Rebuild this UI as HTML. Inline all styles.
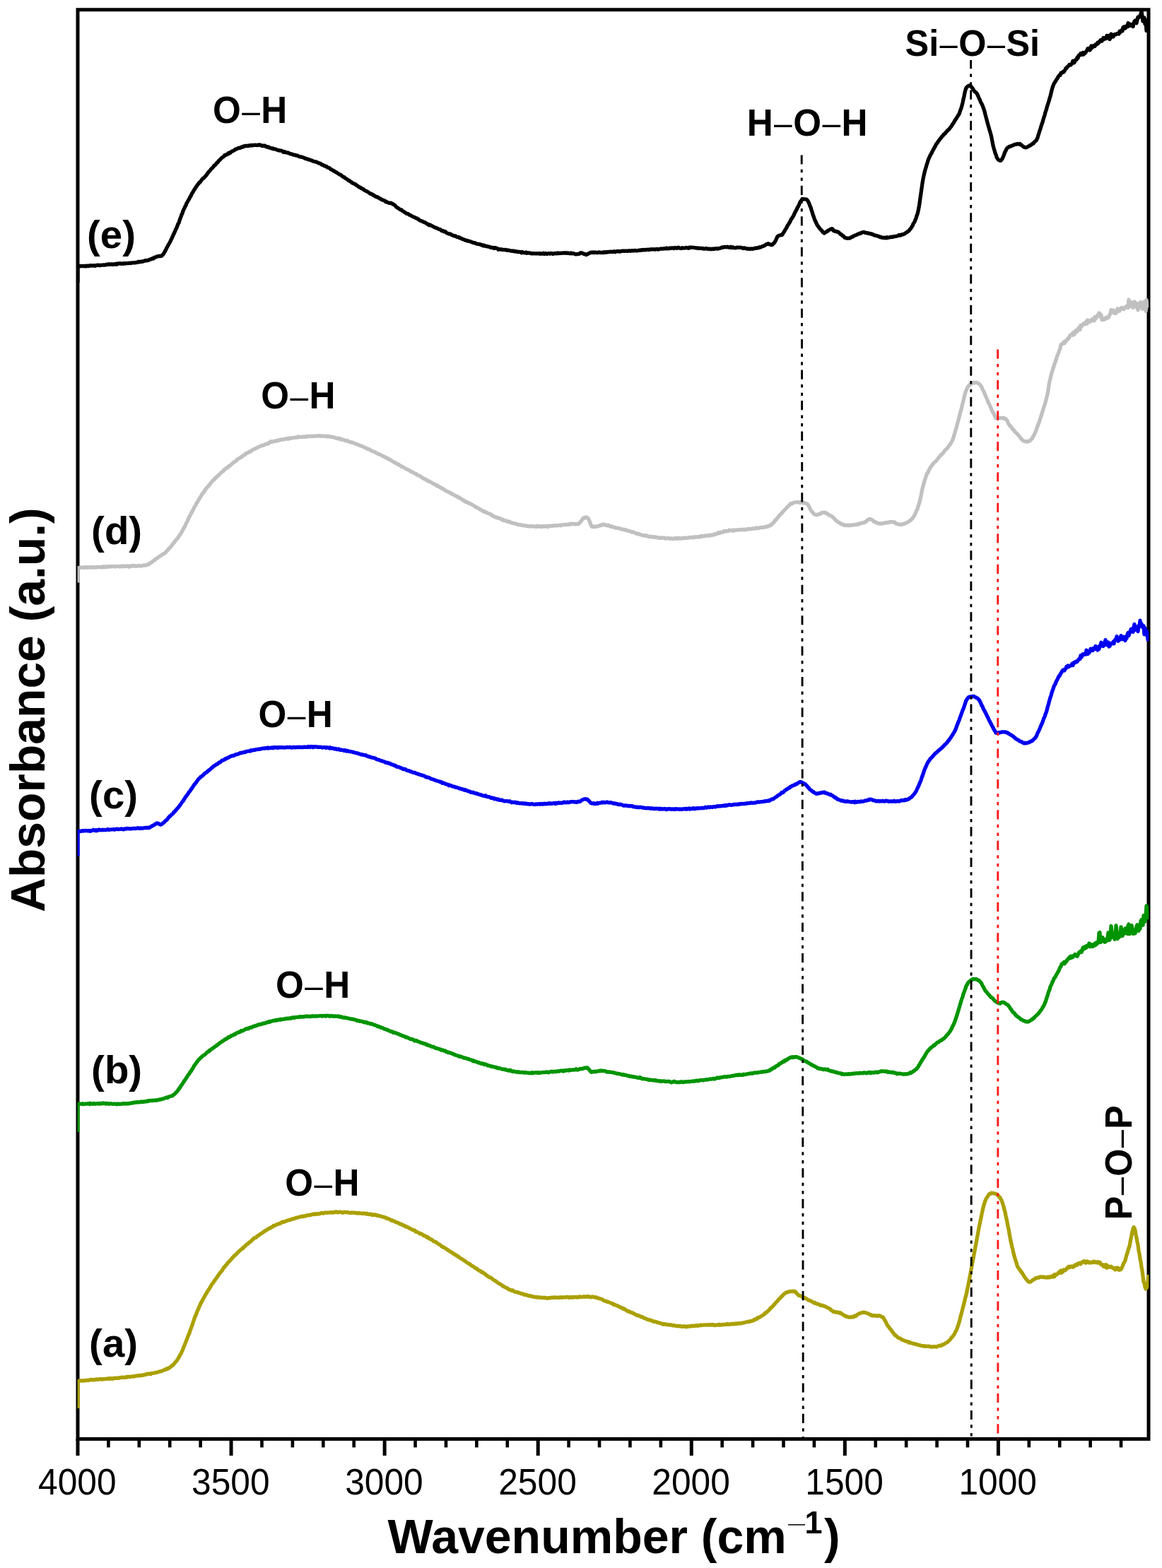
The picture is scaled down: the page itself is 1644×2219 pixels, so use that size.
<!DOCTYPE html>
<html lang="en">
<head>
<meta charset="utf-8">
<title>FTIR spectra</title>
<style>
html,body{margin:0;padding:0;background:#fff;}
body{width:1644px;height:2219px;overflow:hidden;}
svg{display:block;}
text{font-family:"Liberation Sans",sans-serif;fill:#000;}
.b{font-weight:700;}
.r{font-weight:400;}
.m{font-family:"DejaVu Sans","Liberation Sans",sans-serif;font-weight:200;}
.cv{fill:none;stroke-linejoin:round;stroke-linecap:butt;}
</style>
</head>
<body>
<svg width="1644" height="2219" viewBox="0 0 1644 2219" role="img" aria-label="FTIR absorbance spectra (a)-(e)">
<rect x="0" y="0" width="1644" height="2219" fill="#fff"/>
<rect x="110.00" y="13.75" width="1515.00" height="2022.65" fill="none" stroke="#000" stroke-width="5.0"/>
<clipPath id="plot"><rect x="109.60" y="13.75" width="1515.80" height="2022.65"/></clipPath>
<g clip-path="url(#plot)">
<path class="cv" d="M110.0 1993.0L110.0 1954.4L111.0 1954.4L112.0 1954.2L113.0 1953.9L114.0 1954.0L115.0 1953.7L116.0 1954.0L117.0 1954.3L118.0 1953.7L119.0 1953.6L120.0 1953.8L121.0 1953.7L122.0 1953.6L123.0 1953.2L124.0 1953.4L125.0 1953.5L126.0 1952.8L127.0 1953.0L128.0 1952.5L129.0 1952.6L130.0 1952.4L131.0 1952.8L132.0 1952.4L133.0 1952.8L134.0 1952.7L135.0 1952.5L136.0 1951.7L137.0 1952.2L138.0 1952.3L139.0 1952.3L140.0 1951.7L141.0 1951.9L142.0 1951.7L143.0 1951.7L144.0 1952.2L145.0 1951.5L146.0 1951.7L147.0 1951.9L148.0 1951.4L149.0 1951.4L150.0 1951.4L151.0 1951.3L152.0 1950.9L153.0 1951.2L154.0 1951.5L155.0 1950.5L156.0 1951.2L157.0 1950.9L158.0 1950.6L159.0 1951.3L160.0 1950.8L161.0 1950.2L162.0 1950.5L163.0 1950.5L164.0 1950.2L165.0 1950.4L166.0 1950.1L167.0 1950.2L168.0 1950.4L169.0 1949.6L170.0 1949.8L171.0 1949.5L172.0 1949.6L173.0 1949.1L174.0 1949.2L175.0 1949.3L176.0 1949.5L177.0 1949.5L178.0 1948.6L179.0 1948.7L180.0 1949.0L181.0 1948.1L182.0 1948.4L183.0 1948.4L184.0 1948.7L185.0 1948.4L186.0 1948.0L187.0 1947.8L188.0 1947.8L189.0 1948.2L190.0 1947.4L191.0 1947.3L192.0 1947.4L193.0 1947.1L194.0 1947.0L195.0 1946.6L196.0 1946.8L197.0 1946.5L198.0 1946.9L199.0 1946.6L200.0 1946.2L201.0 1946.3L202.0 1945.8L203.0 1946.1L204.0 1945.6L205.0 1945.6L206.0 1944.9L207.0 1945.2L208.0 1944.4L209.0 1944.1L210.0 1944.4L211.0 1944.0L212.0 1944.2L213.0 1944.6L214.0 1943.5L215.0 1943.3L216.0 1943.4L217.0 1943.3L218.0 1942.9L219.0 1942.7L220.0 1942.7L221.0 1942.5L222.0 1941.8L223.0 1941.9L224.0 1941.7L225.0 1941.1L226.0 1941.2L227.0 1940.6L228.0 1940.8L229.0 1940.2L230.0 1939.8L231.0 1939.3L232.0 1939.0L233.0 1938.1L234.0 1938.0L235.0 1938.0L236.0 1936.9L237.0 1937.4L238.0 1936.1L239.0 1936.3L240.0 1935.2L241.0 1935.0L242.0 1934.0L243.0 1932.7L244.0 1932.6L245.0 1931.7L246.0 1930.2L247.0 1929.1L248.0 1928.0L249.0 1926.6L250.0 1925.9L251.0 1924.0L252.0 1922.7L253.0 1920.8L254.0 1919.1L255.0 1917.0L256.0 1915.8L257.0 1913.3L258.0 1911.4L259.0 1908.7L260.0 1906.1L261.0 1903.8L262.0 1901.3L263.0 1898.9L264.0 1896.3L265.0 1893.8L266.0 1890.9L267.0 1888.4L268.0 1886.5L269.0 1883.1L270.0 1880.3L271.0 1877.9L272.0 1875.3L273.0 1871.6L274.0 1869.2L275.0 1866.2L276.0 1863.2L277.0 1861.3L278.0 1858.5L279.0 1856.1L280.0 1853.4L281.0 1851.5L282.0 1849.0L283.0 1846.9L284.0 1844.6L285.0 1842.5L286.0 1841.3L287.0 1838.9L288.0 1837.3L289.0 1835.4L290.0 1833.5L291.0 1831.8L292.0 1830.4L293.0 1828.5L294.0 1826.9L295.0 1825.3L296.0 1824.0L297.0 1822.3L298.0 1820.6L299.0 1818.8L300.0 1817.0L301.0 1816.2L302.0 1814.8L303.0 1813.0L304.0 1811.8L305.0 1810.4L306.0 1809.0L307.0 1807.6L308.0 1805.8L309.0 1805.0L310.0 1802.8L311.0 1802.0L312.0 1800.5L313.0 1799.3L314.0 1798.3L315.0 1796.9L316.0 1794.8L317.0 1793.4L318.0 1792.9L319.0 1791.1L320.0 1790.2L321.0 1789.3L322.0 1787.4L323.0 1786.1L324.0 1785.6L325.0 1784.5L326.0 1783.3L327.0 1782.3L328.0 1780.9L329.0 1779.7L330.0 1779.0L331.0 1777.7L332.0 1776.5L333.0 1776.2L334.0 1775.0L335.0 1774.2L336.0 1772.8L337.0 1772.0L338.0 1770.9L339.0 1770.0L340.0 1769.4L341.0 1768.2L342.0 1767.7L343.0 1766.8L344.0 1766.4L345.0 1764.5L346.0 1764.3L347.0 1763.1L348.0 1762.3L349.0 1761.0L350.0 1760.4L351.0 1760.0L352.0 1758.9L353.0 1758.1L354.0 1757.2L355.0 1756.8L356.0 1755.7L357.0 1754.3L358.0 1753.9L359.0 1752.8L360.0 1751.6L361.0 1751.7L362.0 1751.5L363.0 1750.3L364.0 1749.2L365.0 1748.6L366.0 1748.5L367.0 1747.4L368.0 1746.7L369.0 1746.0L370.0 1745.3L371.0 1744.9L372.0 1744.1L373.0 1743.4L374.0 1742.3L375.0 1742.2L376.0 1741.2L377.0 1741.1L378.0 1739.8L379.0 1739.5L380.0 1739.0L381.0 1738.0L382.0 1738.4L383.0 1737.7L384.0 1736.6L385.0 1736.5L386.0 1735.8L387.0 1734.4L388.0 1734.8L389.0 1734.2L390.0 1733.8L391.0 1733.0L392.0 1732.8L393.0 1732.3L394.0 1732.3L395.0 1731.6L396.0 1731.1L397.0 1731.2L398.0 1730.1L399.0 1729.8L400.0 1729.0L401.0 1729.6L402.0 1729.1L403.0 1728.7L404.0 1728.3L405.0 1727.8L406.0 1727.5L407.0 1727.1L408.0 1726.8L409.0 1726.5L410.0 1726.7L411.0 1726.1L412.0 1725.6L413.0 1725.1L414.0 1724.8L415.0 1725.2L416.0 1724.6L417.0 1724.1L418.0 1723.7L419.0 1723.2L420.0 1723.3L421.0 1723.3L422.0 1722.7L423.0 1722.5L424.0 1722.2L425.0 1722.1L426.0 1721.4L427.0 1721.6L428.0 1721.1L429.0 1721.5L430.0 1720.8L431.0 1721.0L432.0 1721.0L433.0 1720.3L434.0 1720.0L435.0 1720.1L436.0 1719.8L437.0 1719.3L438.0 1719.6L439.0 1719.9L440.0 1719.0L441.0 1718.9L442.0 1718.4L443.0 1718.7L444.0 1718.1L445.0 1717.9L446.0 1718.5L447.0 1717.7L448.0 1718.2L449.0 1718.1L450.0 1717.6L451.0 1717.6L452.0 1717.9L453.0 1717.1L454.0 1716.9L455.0 1716.5L456.0 1716.8L457.0 1717.2L458.0 1716.9L459.0 1716.2L460.0 1716.2L461.0 1716.2L462.0 1716.3L463.0 1716.1L464.0 1716.1L465.0 1716.1L466.0 1715.8L467.0 1715.8L468.0 1715.9L469.0 1715.7L470.0 1715.8L471.0 1716.2L472.0 1715.8L473.0 1715.6L474.0 1715.0L475.0 1715.6L476.0 1714.9L477.0 1715.1L478.0 1715.8L479.0 1715.7L480.0 1715.5L481.0 1715.0L482.0 1715.4L483.0 1715.4L484.0 1715.8L485.0 1716.3L486.0 1715.7L487.0 1715.4L488.0 1715.4L489.0 1715.7L490.0 1715.7L491.0 1715.5L492.0 1715.9L493.0 1715.6L494.0 1716.3L495.0 1716.4L496.0 1716.4L497.0 1716.0L498.0 1716.4L499.0 1716.2L500.0 1716.2L501.0 1716.3L502.0 1716.1L503.0 1716.1L504.0 1716.8L505.0 1716.6L506.0 1716.8L507.0 1717.1L508.0 1716.3L509.0 1716.7L510.0 1717.0L511.0 1717.2L512.0 1717.0L513.0 1717.5L514.0 1717.4L515.0 1717.0L516.0 1717.2L517.0 1717.8L518.0 1717.8L519.0 1717.2L520.0 1718.3L521.0 1718.2L522.0 1718.6L523.0 1718.2L524.0 1718.3L525.0 1718.2L526.0 1719.4L527.0 1718.8L528.0 1719.5L529.0 1719.0L530.0 1719.4L531.0 1719.0L532.0 1719.6L533.0 1720.2L534.0 1719.8L535.0 1720.7L536.0 1720.7L537.0 1720.6L538.0 1721.0L539.0 1721.3L540.0 1721.7L541.0 1721.9L542.0 1722.1L543.0 1722.6L544.0 1722.7L545.0 1722.9L546.0 1723.7L547.0 1724.3L548.0 1724.0L549.0 1724.8L550.0 1725.0L551.0 1725.3L552.0 1726.2L553.0 1726.2L554.0 1727.3L555.0 1727.0L556.0 1727.8L557.0 1728.0L558.0 1728.3L559.0 1729.1L560.0 1729.3L561.0 1730.0L562.0 1730.2L563.0 1730.4L564.0 1731.1L565.0 1731.6L566.0 1732.3L567.0 1732.2L568.0 1732.9L569.0 1732.9L570.0 1734.1L571.0 1734.0L572.0 1734.3L573.0 1735.2L574.0 1736.1L575.0 1735.7L576.0 1736.4L577.0 1736.9L578.0 1737.3L579.0 1738.2L580.0 1738.3L581.0 1738.9L582.0 1739.7L583.0 1739.8L584.0 1740.6L585.0 1740.7L586.0 1741.1L587.0 1741.4L588.0 1743.0L589.0 1742.8L590.0 1743.5L591.0 1743.9L592.0 1744.5L593.0 1744.9L594.0 1746.0L595.0 1745.6L596.0 1746.0L597.0 1746.7L598.0 1747.1L599.0 1748.3L600.0 1748.8L601.0 1748.8L602.0 1749.2L603.0 1750.1L604.0 1751.2L605.0 1750.5L606.0 1752.1L607.0 1752.2L608.0 1753.4L609.0 1753.3L610.0 1754.1L611.0 1754.4L612.0 1755.1L613.0 1756.4L614.0 1756.8L615.0 1757.1L616.0 1757.5L617.0 1757.8L618.0 1758.9L619.0 1759.6L620.0 1760.2L621.0 1760.9L622.0 1761.2L623.0 1762.1L624.0 1762.8L625.0 1763.8L626.0 1764.7L627.0 1764.7L628.0 1765.2L629.0 1766.0L630.0 1766.5L631.0 1767.1L632.0 1768.0L633.0 1768.3L634.0 1769.5L635.0 1769.9L636.0 1770.7L637.0 1771.2L638.0 1771.7L639.0 1772.3L640.0 1773.1L641.0 1773.7L642.0 1774.6L643.0 1775.2L644.0 1775.4L645.0 1776.5L646.0 1776.7L647.0 1777.6L648.0 1778.3L649.0 1778.4L650.0 1779.7L651.0 1780.4L652.0 1781.0L653.0 1781.5L654.0 1782.2L655.0 1782.7L656.0 1783.5L657.0 1784.1L658.0 1784.9L659.0 1785.2L660.0 1786.3L661.0 1786.9L662.0 1787.5L663.0 1788.0L664.0 1789.0L665.0 1789.0L666.0 1790.2L667.0 1790.8L668.0 1791.5L669.0 1792.2L670.0 1792.5L671.0 1793.3L672.0 1794.2L673.0 1794.8L674.0 1795.4L675.0 1795.5L676.0 1796.8L677.0 1797.6L678.0 1798.2L679.0 1798.6L680.0 1798.7L681.0 1800.1L682.0 1800.5L683.0 1800.4L684.0 1801.9L685.0 1802.0L686.0 1802.7L687.0 1803.5L688.0 1804.8L689.0 1804.9L690.0 1805.8L691.0 1806.8L692.0 1807.4L693.0 1807.6L694.0 1808.2L695.0 1808.5L696.0 1809.3L697.0 1810.3L698.0 1811.0L699.0 1811.5L700.0 1812.5L701.0 1812.6L702.0 1813.5L703.0 1814.4L704.0 1815.0L705.0 1815.9L706.0 1816.4L707.0 1816.8L708.0 1817.7L709.0 1818.0L710.0 1818.5L711.0 1819.8L712.0 1820.3L713.0 1821.0L714.0 1821.0L715.0 1822.0L716.0 1822.5L717.0 1823.0L718.0 1823.0L719.0 1824.1L720.0 1824.9L721.0 1825.2L722.0 1825.3L723.0 1825.8L724.0 1826.4L725.0 1825.7L726.0 1826.8L727.0 1827.4L728.0 1827.7L729.0 1828.3L730.0 1828.5L731.0 1828.5L732.0 1828.8L733.0 1829.3L734.0 1829.2L735.0 1829.6L736.0 1830.2L737.0 1830.9L738.0 1830.6L739.0 1830.9L740.0 1831.3L741.0 1832.0L742.0 1831.9L743.0 1832.6L744.0 1832.2L745.0 1832.7L746.0 1833.0L747.0 1833.6L748.0 1833.9L749.0 1833.4L750.0 1833.8L751.0 1834.4L752.0 1834.3L753.0 1834.3L754.0 1835.2L755.0 1835.2L756.0 1835.4L757.0 1835.3L758.0 1835.9L759.0 1835.6L760.0 1836.1L761.0 1835.6L762.0 1835.8L763.0 1836.2L764.0 1836.0L765.0 1836.5L766.0 1836.5L767.0 1836.2L768.0 1836.5L769.0 1836.4L770.0 1836.9L771.0 1836.4L772.0 1836.5L773.0 1837.0L774.0 1837.3L775.0 1837.2L776.0 1836.6L777.0 1836.7L778.0 1837.0L779.0 1836.5L780.0 1836.2L781.0 1836.5L782.0 1836.6L783.0 1836.2L784.0 1835.9L785.0 1835.9L786.0 1836.5L787.0 1836.1L788.0 1836.2L789.0 1836.3L790.0 1836.4L791.0 1836.1L792.0 1836.3L793.0 1835.9L794.0 1836.0L795.0 1835.8L796.0 1836.4L797.0 1836.0L798.0 1835.8L799.0 1835.9L800.0 1835.9L801.0 1836.1L802.0 1835.4L803.0 1835.5L804.0 1835.7L805.0 1836.6L806.0 1836.1L807.0 1835.7L808.0 1835.9L809.0 1836.3L810.0 1835.6L811.0 1835.5L812.0 1836.0L813.0 1835.7L814.0 1835.7L815.0 1835.4L816.0 1836.1L817.0 1836.0L818.0 1835.6L819.0 1835.6L820.0 1834.8L821.0 1835.5L822.0 1835.3L823.0 1835.4L824.0 1835.5L825.0 1835.1L826.0 1834.7L827.0 1835.3L828.0 1834.9L829.0 1835.0L830.0 1834.9L831.0 1835.0L832.0 1834.4L833.0 1835.5L834.0 1835.2L835.0 1835.5L836.0 1835.8L837.0 1835.3L838.0 1834.9L839.0 1835.3L840.0 1835.4L841.0 1835.8L842.0 1836.1L843.0 1835.7L844.0 1836.6L845.0 1836.3L846.0 1837.2L847.0 1837.3L848.0 1837.6L849.0 1838.0L850.0 1838.2L851.0 1838.6L852.0 1838.6L853.0 1839.5L854.0 1840.4L855.0 1840.9L856.0 1841.1L857.0 1841.3L858.0 1841.3L859.0 1842.3L860.0 1842.3L861.0 1842.7L862.0 1843.0L863.0 1843.6L864.0 1843.8L865.0 1844.3L866.0 1844.4L867.0 1845.1L868.0 1846.3L869.0 1846.0L870.0 1846.4L871.0 1847.0L872.0 1847.5L873.0 1847.4L874.0 1848.1L875.0 1848.9L876.0 1849.1L877.0 1849.5L878.0 1850.5L879.0 1850.3L880.0 1851.0L881.0 1851.3L882.0 1852.5L883.0 1852.0L884.0 1852.9L885.0 1853.4L886.0 1854.3L887.0 1854.8L888.0 1855.6L889.0 1855.2L890.0 1856.4L891.0 1856.5L892.0 1856.9L893.0 1857.7L894.0 1857.7L895.0 1857.8L896.0 1858.8L897.0 1858.9L898.0 1859.6L899.0 1860.3L900.0 1860.7L901.0 1861.5L902.0 1861.4L903.0 1861.4L904.0 1862.1L905.0 1862.4L906.0 1862.8L907.0 1863.7L908.0 1863.7L909.0 1863.7L910.0 1864.9L911.0 1865.1L912.0 1865.6L913.0 1865.9L914.0 1866.4L915.0 1866.6L916.0 1867.3L917.0 1867.5L918.0 1867.8L919.0 1868.2L920.0 1867.9L921.0 1868.7L922.0 1869.0L923.0 1869.4L924.0 1869.3L925.0 1870.5L926.0 1870.3L927.0 1870.3L928.0 1870.4L929.0 1871.1L930.0 1871.5L931.0 1871.5L932.0 1872.1L933.0 1872.1L934.0 1872.7L935.0 1872.6L936.0 1873.0L937.0 1873.6L938.0 1874.3L939.0 1873.4L940.0 1873.8L941.0 1873.8L942.0 1874.5L943.0 1874.1L944.0 1874.5L945.0 1874.8L946.0 1874.7L947.0 1874.8L948.0 1875.1L949.0 1874.8L950.0 1875.1L951.0 1875.6L952.0 1875.8L953.0 1875.9L954.0 1875.5L955.0 1876.0L956.0 1876.5L957.0 1876.5L958.0 1876.4L959.0 1876.3L960.0 1876.9L961.0 1876.6L962.0 1876.5L963.0 1876.7L964.0 1877.4L965.0 1877.1L966.0 1877.4L967.0 1877.0L968.0 1877.4L969.0 1877.0L970.0 1877.1L971.0 1877.9L972.0 1877.3L973.0 1876.9L974.0 1877.0L975.0 1877.0L976.0 1877.2L977.0 1876.6L978.0 1876.1L979.0 1876.5L980.0 1876.5L981.0 1876.4L982.0 1876.6L983.0 1876.2L984.0 1876.3L985.0 1875.6L986.0 1876.1L987.0 1876.3L988.0 1875.8L989.0 1875.6L990.0 1875.5L991.0 1875.9L992.0 1875.0L993.0 1875.2L994.0 1875.3L995.0 1875.4L996.0 1875.0L997.0 1875.2L998.0 1875.0L999.0 1875.1L1000.0 1875.0L1001.0 1874.7L1002.0 1875.0L1003.0 1875.3L1004.0 1874.7L1005.0 1874.9L1006.0 1875.1L1007.0 1874.6L1008.0 1875.0L1009.0 1874.6L1010.0 1875.2L1011.0 1875.6L1012.0 1875.5L1013.0 1874.8L1014.0 1875.0L1015.0 1874.8L1016.0 1874.8L1017.0 1875.2L1018.0 1874.3L1019.0 1875.0L1020.0 1874.6L1021.0 1875.0L1022.0 1874.6L1023.0 1874.3L1024.0 1874.5L1025.0 1874.6L1026.0 1874.3L1027.0 1874.4L1028.0 1874.1L1029.0 1873.5L1030.0 1874.4L1031.0 1874.2L1032.0 1874.0L1033.0 1873.9L1034.0 1874.1L1035.0 1873.6L1036.0 1873.5L1037.0 1873.6L1038.0 1873.9L1039.0 1873.1L1040.0 1873.7L1041.0 1873.1L1042.0 1872.9L1043.0 1873.5L1044.0 1873.0L1045.0 1872.6L1046.0 1872.7L1047.0 1873.0L1048.0 1872.9L1049.0 1872.3L1050.0 1872.4L1051.0 1872.3L1052.0 1871.7L1053.0 1871.8L1054.0 1871.5L1055.0 1871.1L1056.0 1870.9L1057.0 1870.9L1058.0 1870.7L1059.0 1870.2L1060.0 1870.1L1061.0 1870.3L1062.0 1869.7L1063.0 1869.6L1064.0 1869.3L1065.0 1868.8L1066.0 1868.9L1067.0 1867.5L1068.0 1867.5L1069.0 1866.7L1070.0 1866.9L1071.0 1866.4L1072.0 1864.7L1073.0 1864.5L1074.0 1864.5L1075.0 1863.9L1076.0 1863.3L1077.0 1862.5L1078.0 1862.0L1079.0 1861.5L1080.0 1860.6L1081.0 1860.2L1082.0 1858.5L1083.0 1858.6L1084.0 1857.3L1085.0 1857.0L1086.0 1855.8L1087.0 1854.7L1088.0 1854.1L1089.0 1852.7L1090.0 1851.7L1091.0 1850.4L1092.0 1849.8L1093.0 1848.8L1094.0 1847.9L1095.0 1846.4L1096.0 1845.6L1097.0 1844.2L1098.0 1843.0L1099.0 1842.1L1100.0 1841.2L1101.0 1839.7L1102.0 1838.7L1103.0 1837.6L1104.0 1836.7L1105.0 1835.3L1106.0 1834.9L1107.0 1833.5L1108.0 1832.7L1109.0 1831.4L1110.0 1830.8L1111.0 1830.0L1112.0 1829.1L1113.0 1829.3L1114.0 1828.5L1115.0 1828.6L1116.0 1828.2L1117.0 1827.6L1118.0 1827.6L1119.0 1827.7L1120.0 1827.5L1121.0 1827.5L1122.0 1827.5L1123.0 1827.2L1124.0 1827.9L1125.0 1827.7L1126.0 1829.2L1127.0 1829.9L1128.0 1831.1L1129.0 1832.4L1130.0 1833.3L1131.0 1833.3L1132.0 1833.6L1133.0 1834.2L1134.0 1834.3L1135.0 1835.0L1136.0 1836.1L1137.0 1835.8L1138.0 1836.8L1139.0 1836.7L1140.0 1837.7L1141.0 1838.0L1142.0 1838.6L1143.0 1839.3L1144.0 1840.1L1145.0 1840.2L1146.0 1840.7L1147.0 1840.9L1148.0 1841.8L1149.0 1842.1L1150.0 1842.9L1151.0 1843.1L1152.0 1844.1L1153.0 1843.5L1154.0 1844.4L1155.0 1845.1L1156.0 1845.1L1157.0 1845.3L1158.0 1845.8L1159.0 1845.8L1160.0 1846.6L1161.0 1847.6L1162.0 1847.5L1163.0 1847.1L1164.0 1847.5L1165.0 1848.0L1166.0 1848.7L1167.0 1848.5L1168.0 1849.0L1169.0 1849.9L1170.0 1850.3L1171.0 1850.6L1172.0 1851.0L1173.0 1851.6L1174.0 1852.5L1175.0 1852.8L1176.0 1854.4L1177.0 1854.6L1178.0 1855.5L1179.0 1856.4L1180.0 1856.6L1181.0 1856.2L1182.0 1857.0L1183.0 1857.3L1184.0 1856.9L1185.0 1857.0L1186.0 1857.5L1187.0 1857.3L1188.0 1858.5L1189.0 1857.7L1190.0 1858.5L1191.0 1859.4L1192.0 1860.0L1193.0 1860.7L1194.0 1861.4L1195.0 1861.9L1196.0 1862.9L1197.0 1862.4L1198.0 1863.4L1199.0 1863.5L1200.0 1863.9L1201.0 1864.1L1202.0 1863.8L1203.0 1863.8L1204.0 1864.1L1205.0 1863.8L1206.0 1863.3L1207.0 1863.9L1208.0 1863.7L1209.0 1862.2L1210.0 1862.2L1211.0 1862.4L1212.0 1861.3L1213.0 1860.5L1214.0 1859.8L1215.0 1859.2L1216.0 1858.8L1217.0 1858.3L1218.0 1858.3L1219.0 1857.7L1220.0 1857.5L1221.0 1857.2L1222.0 1857.5L1223.0 1857.2L1224.0 1857.5L1225.0 1858.0L1226.0 1858.1L1227.0 1858.5L1228.0 1858.9L1229.0 1859.3L1230.0 1859.8L1231.0 1860.3L1232.0 1861.1L1233.0 1861.0L1234.0 1862.0L1235.0 1861.9L1236.0 1861.7L1237.0 1861.9L1238.0 1861.9L1239.0 1862.2L1240.0 1861.9L1241.0 1862.6L1242.0 1862.1L1243.0 1861.7L1244.0 1862.2L1245.0 1862.0L1246.0 1862.8L1247.0 1863.4L1248.0 1863.8L1249.0 1863.9L1250.0 1865.2L1251.0 1867.4L1252.0 1868.6L1253.0 1870.3L1254.0 1872.4L1255.0 1874.7L1256.0 1876.1L1257.0 1877.3L1258.0 1878.7L1259.0 1880.2L1260.0 1881.2L1261.0 1882.4L1262.0 1884.1L1263.0 1885.1L1264.0 1886.6L1265.0 1887.8L1266.0 1889.5L1267.0 1889.5L1268.0 1890.6L1269.0 1891.4L1270.0 1892.4L1271.0 1893.3L1272.0 1893.5L1273.0 1894.0L1274.0 1894.3L1275.0 1895.0L1276.0 1896.0L1277.0 1896.3L1278.0 1896.4L1279.0 1897.0L1280.0 1897.5L1281.0 1898.0L1282.0 1898.0L1283.0 1898.5L1284.0 1898.4L1285.0 1899.0L1286.0 1900.1L1287.0 1899.3L1288.0 1900.2L1289.0 1900.7L1290.0 1900.9L1291.0 1901.0L1292.0 1901.5L1293.0 1901.8L1294.0 1902.1L1295.0 1901.8L1296.0 1902.5L1297.0 1902.5L1298.0 1902.8L1299.0 1903.3L1300.0 1903.6L1301.0 1903.9L1302.0 1903.7L1303.0 1904.3L1304.0 1904.5L1305.0 1904.7L1306.0 1905.0L1307.0 1904.7L1308.0 1904.8L1309.0 1905.3L1310.0 1904.8L1311.0 1905.4L1312.0 1905.3L1313.0 1905.4L1314.0 1905.1L1315.0 1905.4L1316.0 1905.7L1317.0 1906.0L1318.0 1906.1L1319.0 1905.8L1320.0 1905.8L1321.0 1905.6L1322.0 1905.9L1323.0 1905.7L1324.0 1906.0L1325.0 1906.2L1326.0 1905.6L1327.0 1904.9L1328.0 1904.9L1329.0 1904.4L1330.0 1904.1L1331.0 1904.5L1332.0 1903.8L1333.0 1902.9L1334.0 1903.1L1335.0 1902.8L1336.0 1901.9L1337.0 1901.3L1338.0 1900.8L1339.0 1900.2L1340.0 1899.6L1341.0 1898.9L1342.0 1898.0L1343.0 1897.0L1344.0 1896.0L1345.0 1894.8L1346.0 1893.0L1347.0 1892.3L1348.0 1891.2L1349.0 1889.6L1350.0 1888.5L1351.0 1886.3L1352.0 1884.2L1353.0 1882.8L1354.0 1880.1L1355.0 1877.2L1356.0 1874.4L1357.0 1871.2L1358.0 1867.5L1359.0 1863.1L1360.0 1859.8L1361.0 1855.9L1362.0 1851.8L1363.0 1848.0L1364.0 1844.3L1365.0 1839.8L1366.0 1835.6L1367.0 1832.4L1368.0 1827.3L1369.0 1822.4L1370.0 1817.9L1371.0 1812.7L1372.0 1807.1L1373.0 1802.3L1374.0 1796.6L1375.0 1791.1L1376.0 1786.1L1377.0 1780.9L1378.0 1775.1L1379.0 1770.0L1380.0 1764.5L1381.0 1760.0L1382.0 1753.5L1383.0 1748.7L1384.0 1742.9L1385.0 1737.5L1386.0 1732.6L1387.0 1727.7L1388.0 1723.1L1389.0 1718.2L1390.0 1713.4L1391.0 1709.0L1392.0 1705.3L1393.0 1701.9L1394.0 1699.3L1395.0 1696.8L1396.0 1695.2L1397.0 1693.8L1398.0 1692.1L1399.0 1690.4L1400.0 1689.6L1401.0 1688.8L1402.0 1689.2L1403.0 1688.2L1404.0 1688.7L1405.0 1688.5L1406.0 1689.0L1407.0 1689.1L1408.0 1689.2L1409.0 1689.7L1410.0 1690.4L1411.0 1691.2L1412.0 1691.8L1413.0 1692.9L1414.0 1694.5L1415.0 1694.8L1416.0 1697.0L1417.0 1698.6L1418.0 1701.3L1419.0 1704.5L1420.0 1707.6L1421.0 1711.8L1422.0 1715.3L1423.0 1720.6L1424.0 1724.8L1425.0 1730.0L1426.0 1735.1L1427.0 1739.6L1428.0 1745.5L1429.0 1751.0L1430.0 1756.4L1431.0 1760.7L1432.0 1765.1L1433.0 1768.8L1434.0 1773.7L1435.0 1777.6L1436.0 1780.8L1437.0 1784.2L1438.0 1787.1L1439.0 1790.6L1440.0 1793.3L1441.0 1794.4L1442.0 1796.1L1443.0 1797.4L1444.0 1798.4L1445.0 1800.5L1446.0 1801.2L1447.0 1802.9L1448.0 1804.5L1449.0 1806.2L1450.0 1807.6L1451.0 1809.2L1452.0 1810.3L1453.0 1811.5L1454.0 1813.0L1455.0 1813.7L1456.0 1814.1L1457.0 1814.3L1458.0 1814.2L1459.0 1813.2L1460.0 1812.5L1461.0 1811.5L1462.0 1811.1L1463.0 1810.3L1464.0 1810.2L1465.0 1808.8L1466.0 1808.7L1467.0 1808.8L1468.0 1808.1L1469.0 1807.7L1470.0 1808.1L1471.0 1807.3L1472.0 1806.9L1473.0 1806.8L1474.0 1807.4L1475.0 1807.5L1476.0 1806.9L1477.0 1807.2L1478.0 1807.8L1479.0 1807.9L1480.0 1807.4L1481.0 1808.0L1482.0 1808.0L1483.0 1806.9L1484.0 1807.6L1485.0 1807.9L1486.0 1807.3L1487.0 1806.2L1488.0 1806.9L1489.0 1807.1L1490.0 1807.0L1491.0 1804.3L1492.0 1806.5L1493.0 1803.6L1494.0 1804.2L1495.0 1803.8L1496.0 1803.0L1497.0 1802.0L1498.0 1800.5L1499.0 1801.2L1500.0 1799.8L1501.0 1798.0L1502.0 1801.2L1503.0 1799.2L1504.0 1799.4L1505.0 1797.0L1506.0 1798.2L1507.0 1797.7L1508.0 1797.2L1509.0 1795.5L1510.0 1794.2L1511.0 1794.4L1512.0 1792.5L1513.0 1792.5L1514.0 1793.4L1515.0 1792.2L1516.0 1792.4L1517.0 1792.1L1518.0 1793.2L1519.0 1792.3L1520.0 1791.0L1521.0 1791.5L1522.0 1789.7L1523.0 1789.7L1524.0 1790.2L1525.0 1788.3L1526.0 1788.6L1527.0 1787.4L1528.0 1788.1L1529.0 1788.8L1530.0 1786.6L1531.0 1786.9L1532.0 1785.7L1533.0 1785.2L1534.0 1784.8L1535.0 1786.6L1536.0 1787.3L1537.0 1785.9L1538.0 1785.1L1539.0 1786.4L1540.0 1785.8L1541.0 1786.9L1542.0 1786.7L1543.0 1786.8L1544.0 1787.1L1545.0 1786.2L1546.0 1786.4L1547.0 1785.4L1548.0 1786.4L1549.0 1785.6L1550.0 1786.6L1551.0 1786.0L1552.0 1786.9L1553.0 1787.2L1554.0 1785.8L1555.0 1786.3L1556.0 1786.3L1557.0 1788.2L1558.0 1789.7L1559.0 1790.0L1560.0 1789.9L1561.0 1792.1L1562.0 1790.1L1563.0 1792.7L1564.0 1791.2L1565.0 1789.7L1566.0 1794.3L1567.0 1793.7L1568.0 1791.8L1569.0 1793.0L1570.0 1792.9L1571.0 1793.4L1572.0 1792.3L1573.0 1793.2L1574.0 1794.3L1575.0 1794.4L1576.0 1795.4L1577.0 1794.8L1578.0 1796.9L1579.0 1794.6L1580.0 1795.7L1581.0 1794.1L1582.0 1794.9L1583.0 1797.2L1584.0 1795.5L1585.0 1796.8L1586.0 1796.3L1587.0 1794.4L1588.0 1792.4L1589.0 1789.6L1590.0 1787.3L1591.0 1786.1L1592.0 1783.5L1593.0 1779.6L1594.0 1775.9L1595.0 1773.3L1596.0 1769.1L1597.0 1766.2L1598.0 1763.8L1599.0 1758.3L1600.0 1752.9L1601.0 1748.0L1602.0 1742.9L1603.0 1739.2L1604.0 1736.8L1605.0 1738.0L1606.0 1741.3L1607.0 1747.2L1608.0 1751.9L1609.0 1757.7L1610.0 1762.0L1611.0 1769.8L1612.0 1774.3L1613.0 1781.0L1614.0 1785.9L1615.0 1792.9L1616.0 1798.4L1617.0 1806.2L1618.0 1814.3L1619.0 1815.7L1620.0 1821.3L1621.0 1824.0L1622.0 1823.1L1623.0 1819.8L1624.0 1813.6L1624.9 1804.0" stroke="#aaa000" stroke-width="5.3"/>
<path class="cv" d="M110.0 1602.0L110.0 1562.4L111.0 1562.1L112.0 1562.1L113.0 1562.1L114.0 1562.2L115.0 1562.3L116.0 1562.3L117.0 1561.7L118.0 1562.8L119.0 1562.5L120.0 1562.3L121.0 1562.0L122.0 1562.0L123.0 1562.2L124.0 1562.1L125.0 1561.5L126.0 1562.2L127.0 1562.8L128.0 1561.4L129.0 1562.2L130.0 1562.0L131.0 1561.9L132.0 1562.3L133.0 1561.5L134.0 1561.9L135.0 1562.3L136.0 1561.8L137.0 1561.7L138.0 1561.8L139.0 1561.7L140.0 1562.3L141.0 1561.5L142.0 1562.0L143.0 1561.4L144.0 1561.9L145.0 1561.7L146.0 1560.9L147.0 1561.7L148.0 1561.4L149.0 1561.6L150.0 1562.2L151.0 1561.4L152.0 1561.4L153.0 1562.2L154.0 1561.8L155.0 1562.3L156.0 1562.0L157.0 1561.7L158.0 1562.0L159.0 1562.4L160.0 1562.4L161.0 1562.1L162.0 1562.2L163.0 1562.2L164.0 1562.1L165.0 1562.9L166.0 1562.3L167.0 1562.0L168.0 1562.2L169.0 1562.6L170.0 1562.5L171.0 1562.3L172.0 1562.1L173.0 1562.2L174.0 1561.6L175.0 1561.7L176.0 1562.2L177.0 1561.7L178.0 1561.9L179.0 1562.1L180.0 1561.8L181.0 1561.5L182.0 1562.1L183.0 1561.5L184.0 1561.1L185.0 1561.3L186.0 1561.1L187.0 1560.6L188.0 1560.8L189.0 1560.6L190.0 1559.9L191.0 1560.4L192.0 1560.2L193.0 1560.1L194.0 1559.6L195.0 1559.8L196.0 1559.8L197.0 1559.8L198.0 1559.3L199.0 1559.7L200.0 1559.0L201.0 1559.2L202.0 1559.6L203.0 1558.8L204.0 1558.8L205.0 1559.2L206.0 1558.6L207.0 1558.5L208.0 1558.5L209.0 1558.7L210.0 1557.6L211.0 1557.9L212.0 1557.7L213.0 1557.5L214.0 1557.5L215.0 1557.4L216.0 1557.6L217.0 1557.1L218.0 1557.3L219.0 1557.3L220.0 1556.8L221.0 1556.9L222.0 1557.3L223.0 1556.7L224.0 1556.3L225.0 1556.3L226.0 1555.8L227.0 1556.0L228.0 1555.9L229.0 1555.2L230.0 1555.1L231.0 1555.2L232.0 1554.5L233.0 1554.4L234.0 1553.7L235.0 1553.4L236.0 1553.2L237.0 1553.7L238.0 1552.5L239.0 1552.1L240.0 1551.8L241.0 1551.5L242.0 1551.3L243.0 1550.7L244.0 1550.8L245.0 1549.6L246.0 1549.3L247.0 1548.2L248.0 1547.4L249.0 1545.9L250.0 1545.2L251.0 1544.1L252.0 1542.8L253.0 1540.8L254.0 1540.2L255.0 1538.3L256.0 1536.8L257.0 1535.4L258.0 1533.9L259.0 1532.6L260.0 1530.6L261.0 1529.2L262.0 1528.0L263.0 1526.5L264.0 1524.8L265.0 1523.3L266.0 1521.7L267.0 1520.4L268.0 1519.3L269.0 1517.1L270.0 1516.4L271.0 1514.7L272.0 1512.8L273.0 1511.6L274.0 1509.5L275.0 1507.9L276.0 1506.5L277.0 1505.3L278.0 1503.8L279.0 1502.4L280.0 1501.3L281.0 1499.5L282.0 1499.2L283.0 1497.6L284.0 1496.9L285.0 1496.1L286.0 1495.0L287.0 1494.2L288.0 1493.5L289.0 1493.0L290.0 1492.3L291.0 1491.5L292.0 1490.2L293.0 1489.4L294.0 1488.6L295.0 1488.2L296.0 1486.6L297.0 1486.8L298.0 1485.5L299.0 1484.6L300.0 1484.2L301.0 1483.6L302.0 1482.6L303.0 1482.1L304.0 1481.1L305.0 1480.7L306.0 1479.9L307.0 1478.8L308.0 1478.6L309.0 1477.5L310.0 1476.8L311.0 1475.8L312.0 1475.3L313.0 1475.0L314.0 1473.7L315.0 1473.6L316.0 1472.9L317.0 1472.2L318.0 1470.8L319.0 1470.8L320.0 1470.5L321.0 1469.4L322.0 1469.1L323.0 1467.8L324.0 1468.1L325.0 1467.1L326.0 1467.0L327.0 1465.6L328.0 1465.9L329.0 1465.0L330.0 1464.8L331.0 1463.8L332.0 1463.3L333.0 1463.7L334.0 1462.3L335.0 1461.8L336.0 1461.5L337.0 1460.8L338.0 1461.0L339.0 1460.7L340.0 1459.5L341.0 1458.7L342.0 1459.2L343.0 1458.8L344.0 1458.3L345.0 1458.0L346.0 1457.0L347.0 1456.8L348.0 1456.0L349.0 1455.6L350.0 1456.0L351.0 1455.1L352.0 1455.6L353.0 1454.6L354.0 1454.0L355.0 1454.1L356.0 1454.0L357.0 1453.3L358.0 1452.4L359.0 1452.6L360.0 1452.6L361.0 1451.7L362.0 1451.3L363.0 1451.5L364.0 1450.9L365.0 1450.2L366.0 1450.2L367.0 1449.7L368.0 1449.8L369.0 1449.4L370.0 1449.5L371.0 1449.0L372.0 1448.1L373.0 1448.4L374.0 1448.3L375.0 1447.9L376.0 1447.8L377.0 1447.0L378.0 1446.6L379.0 1446.9L380.0 1446.1L381.0 1445.5L382.0 1446.2L383.0 1445.4L384.0 1445.3L385.0 1444.8L386.0 1444.6L387.0 1444.4L388.0 1444.4L389.0 1444.4L390.0 1443.4L391.0 1444.1L392.0 1443.3L393.0 1443.2L394.0 1443.5L395.0 1443.1L396.0 1442.5L397.0 1443.3L398.0 1442.3L399.0 1442.5L400.0 1442.3L401.0 1442.5L402.0 1441.8L403.0 1442.1L404.0 1441.4L405.0 1441.8L406.0 1441.1L407.0 1441.1L408.0 1441.6L409.0 1441.0L410.0 1440.8L411.0 1441.3L412.0 1440.6L413.0 1440.1L414.0 1440.5L415.0 1439.8L416.0 1440.4L417.0 1440.3L418.0 1439.7L419.0 1439.5L420.0 1439.7L421.0 1439.5L422.0 1439.1L423.0 1439.5L424.0 1438.6L425.0 1439.0L426.0 1439.0L427.0 1438.9L428.0 1439.0L429.0 1438.5L430.0 1439.0L431.0 1438.6L432.0 1438.4L433.0 1438.2L434.0 1438.1L435.0 1438.5L436.0 1438.1L437.0 1438.3L438.0 1438.6L439.0 1438.5L440.0 1438.6L441.0 1438.0L442.0 1437.7L443.0 1438.3L444.0 1438.0L445.0 1438.2L446.0 1437.9L447.0 1438.2L448.0 1438.0L449.0 1438.0L450.0 1437.9L451.0 1437.8L452.0 1437.7L453.0 1437.7L454.0 1437.9L455.0 1437.5L456.0 1438.1L457.0 1437.6L458.0 1437.9L459.0 1437.5L460.0 1437.5L461.0 1438.2L462.0 1437.5L463.0 1437.2L464.0 1437.4L465.0 1437.5L466.0 1438.3L467.0 1437.7L468.0 1438.0L469.0 1437.4L470.0 1437.9L471.0 1438.0L472.0 1438.4L473.0 1437.8L474.0 1438.2L475.0 1438.3L476.0 1438.0L477.0 1438.4L478.0 1438.4L479.0 1438.0L480.0 1439.0L481.0 1439.1L482.0 1439.0L483.0 1438.9L484.0 1439.9L485.0 1439.7L486.0 1440.1L487.0 1440.4L488.0 1440.0L489.0 1440.6L490.0 1440.5L491.0 1440.8L492.0 1440.9L493.0 1441.2L494.0 1441.7L495.0 1441.6L496.0 1441.8L497.0 1442.0L498.0 1442.4L499.0 1442.2L500.0 1442.6L501.0 1442.9L502.0 1443.0L503.0 1443.4L504.0 1443.4L505.0 1444.5L506.0 1444.5L507.0 1444.5L508.0 1444.5L509.0 1445.4L510.0 1445.1L511.0 1445.2L512.0 1445.5L513.0 1445.8L514.0 1446.3L515.0 1446.1L516.0 1447.0L517.0 1446.4L518.0 1447.1L519.0 1446.9L520.0 1448.0L521.0 1447.6L522.0 1448.0L523.0 1448.6L524.0 1449.0L525.0 1448.6L526.0 1449.1L527.0 1449.2L528.0 1450.0L529.0 1450.3L530.0 1450.6L531.0 1450.9L532.0 1451.3L533.0 1451.6L534.0 1452.4L535.0 1453.0L536.0 1452.4L537.0 1453.3L538.0 1453.6L539.0 1454.3L540.0 1454.2L541.0 1454.9L542.0 1455.0L543.0 1455.9L544.0 1456.1L545.0 1456.4L546.0 1456.9L547.0 1457.1L548.0 1457.1L549.0 1458.2L550.0 1458.4L551.0 1458.7L552.0 1459.4L553.0 1459.9L554.0 1459.6L555.0 1460.0L556.0 1461.1L557.0 1461.4L558.0 1461.2L559.0 1461.4L560.0 1462.0L561.0 1462.4L562.0 1462.4L563.0 1463.3L564.0 1463.3L565.0 1463.7L566.0 1464.7L567.0 1464.6L568.0 1465.2L569.0 1465.8L570.0 1466.2L571.0 1466.2L572.0 1466.7L573.0 1466.8L574.0 1468.0L575.0 1468.0L576.0 1467.9L577.0 1468.6L578.0 1469.2L579.0 1469.5L580.0 1470.3L581.0 1470.5L582.0 1470.3L583.0 1470.8L584.0 1470.8L585.0 1471.7L586.0 1472.0L587.0 1473.1L588.0 1472.7L589.0 1472.4L590.0 1473.2L591.0 1473.8L592.0 1473.8L593.0 1474.3L594.0 1474.8L595.0 1475.4L596.0 1475.6L597.0 1475.7L598.0 1476.6L599.0 1476.6L600.0 1476.9L601.0 1477.0L602.0 1477.6L603.0 1478.4L604.0 1478.0L605.0 1478.9L606.0 1479.5L607.0 1479.5L608.0 1480.0L609.0 1480.0L610.0 1481.0L611.0 1481.3L612.0 1481.4L613.0 1481.2L614.0 1481.8L615.0 1482.7L616.0 1483.3L617.0 1483.2L618.0 1483.9L619.0 1483.7L620.0 1484.1L621.0 1484.5L622.0 1485.0L623.0 1484.8L624.0 1485.9L625.0 1486.3L626.0 1486.0L627.0 1486.2L628.0 1487.1L629.0 1487.2L630.0 1487.0L631.0 1488.3L632.0 1488.5L633.0 1488.6L634.0 1489.7L635.0 1489.5L636.0 1489.6L637.0 1490.2L638.0 1490.2L639.0 1490.6L640.0 1491.3L641.0 1491.4L642.0 1491.8L643.0 1492.8L644.0 1492.9L645.0 1493.2L646.0 1493.5L647.0 1493.8L648.0 1494.4L649.0 1494.3L650.0 1495.3L651.0 1494.8L652.0 1495.3L653.0 1495.3L654.0 1496.0L655.0 1496.6L656.0 1497.2L657.0 1496.9L658.0 1497.4L659.0 1497.6L660.0 1497.9L661.0 1498.1L662.0 1498.8L663.0 1498.5L664.0 1499.4L665.0 1499.7L666.0 1499.8L667.0 1500.1L668.0 1500.3L669.0 1501.6L670.0 1500.9L671.0 1502.1L672.0 1502.1L673.0 1502.2L674.0 1502.3L675.0 1503.2L676.0 1503.8L677.0 1503.3L678.0 1503.8L679.0 1504.5L680.0 1504.6L681.0 1505.4L682.0 1504.9L683.0 1505.5L684.0 1505.3L685.0 1506.6L686.0 1506.0L687.0 1505.9L688.0 1506.8L689.0 1507.1L690.0 1508.0L691.0 1507.6L692.0 1508.0L693.0 1508.4L694.0 1509.0L695.0 1508.8L696.0 1509.4L697.0 1509.5L698.0 1509.5L699.0 1509.9L700.0 1510.2L701.0 1510.2L702.0 1511.1L703.0 1510.6L704.0 1511.6L705.0 1511.8L706.0 1511.7L707.0 1511.7L708.0 1512.1L709.0 1512.6L710.0 1512.9L711.0 1513.0L712.0 1513.4L713.0 1513.2L714.0 1513.7L715.0 1513.3L716.0 1514.2L717.0 1514.3L718.0 1514.3L719.0 1515.0L720.0 1515.1L721.0 1514.2L722.0 1515.3L723.0 1515.0L724.0 1516.0L725.0 1516.6L726.0 1515.8L727.0 1516.2L728.0 1516.3L729.0 1516.6L730.0 1516.8L731.0 1517.2L732.0 1516.6L733.0 1517.5L734.0 1516.9L735.0 1517.4L736.0 1517.7L737.0 1517.7L738.0 1517.3L739.0 1517.4L740.0 1517.6L741.0 1517.8L742.0 1518.2L743.0 1517.5L744.0 1518.1L745.0 1518.2L746.0 1518.2L747.0 1518.2L748.0 1518.6L749.0 1518.3L750.0 1518.5L751.0 1518.4L752.0 1518.8L753.0 1517.7L754.0 1518.7L755.0 1518.2L756.0 1518.2L757.0 1518.0L758.0 1517.7L759.0 1518.1L760.0 1518.0L761.0 1518.4L762.0 1517.7L763.0 1518.6L764.0 1518.2L765.0 1518.0L766.0 1517.8L767.0 1517.7L768.0 1517.5L769.0 1517.6L770.0 1517.7L771.0 1517.6L772.0 1517.1L773.0 1517.4L774.0 1517.1L775.0 1517.4L776.0 1517.8L777.0 1517.3L778.0 1517.0L779.0 1516.5L780.0 1516.5L781.0 1516.3L782.0 1517.0L783.0 1516.4L784.0 1516.6L785.0 1516.3L786.0 1516.4L787.0 1516.7L788.0 1516.0L789.0 1516.0L790.0 1515.8L791.0 1516.2L792.0 1515.5L793.0 1515.4L794.0 1515.2L795.0 1515.1L796.0 1515.6L797.0 1516.1L798.0 1514.9L799.0 1515.4L800.0 1515.1L801.0 1514.6L802.0 1514.8L803.0 1514.7L804.0 1514.4L805.0 1515.1L806.0 1513.9L807.0 1514.5L808.0 1514.3L809.0 1514.0L810.0 1514.1L811.0 1514.2L812.0 1513.9L813.0 1513.9L814.0 1513.9L815.0 1512.9L816.0 1513.9L817.0 1514.0L818.0 1513.6L819.0 1513.5L820.0 1512.6L821.0 1512.9L822.0 1512.6L823.0 1512.4L824.0 1512.7L825.0 1511.9L826.0 1511.9L827.0 1511.1L828.0 1511.4L829.0 1511.3L830.0 1510.9L831.0 1511.0L832.0 1512.5L833.0 1512.8L834.0 1514.3L835.0 1515.6L836.0 1516.9L837.0 1517.4L838.0 1516.9L839.0 1516.5L840.0 1516.5L841.0 1516.9L842.0 1516.1L843.0 1516.7L844.0 1516.5L845.0 1515.9L846.0 1515.9L847.0 1515.8L848.0 1515.9L849.0 1515.0L850.0 1515.7L851.0 1515.2L852.0 1515.2L853.0 1515.6L854.0 1515.7L855.0 1515.6L856.0 1515.6L857.0 1516.0L858.0 1516.8L859.0 1517.2L860.0 1516.9L861.0 1517.2L862.0 1516.9L863.0 1517.2L864.0 1517.5L865.0 1517.3L866.0 1517.5L867.0 1518.0L868.0 1518.0L869.0 1518.0L870.0 1518.7L871.0 1518.7L872.0 1519.3L873.0 1519.2L874.0 1519.3L875.0 1519.6L876.0 1519.7L877.0 1519.8L878.0 1520.1L879.0 1520.6L880.0 1520.8L881.0 1521.2L882.0 1520.5L883.0 1521.1L884.0 1521.3L885.0 1521.7L886.0 1521.7L887.0 1521.9L888.0 1522.5L889.0 1522.5L890.0 1522.3L891.0 1523.3L892.0 1523.4L893.0 1523.1L894.0 1523.7L895.0 1523.5L896.0 1524.2L897.0 1524.0L898.0 1524.0L899.0 1524.4L900.0 1524.5L901.0 1524.9L902.0 1525.1L903.0 1525.3L904.0 1525.3L905.0 1524.6L906.0 1525.9L907.0 1525.5L908.0 1526.3L909.0 1526.8L910.0 1526.7L911.0 1526.7L912.0 1526.9L913.0 1527.1L914.0 1527.2L915.0 1527.3L916.0 1527.3L917.0 1528.1L918.0 1527.9L919.0 1528.3L920.0 1528.1L921.0 1528.3L922.0 1528.3L923.0 1528.7L924.0 1528.9L925.0 1528.8L926.0 1528.6L927.0 1528.7L928.0 1529.6L929.0 1529.1L930.0 1529.2L931.0 1529.8L932.0 1529.8L933.0 1529.8L934.0 1529.6L935.0 1530.5L936.0 1530.0L937.0 1530.2L938.0 1530.1L939.0 1529.8L940.0 1529.9L941.0 1530.5L942.0 1530.6L943.0 1530.5L944.0 1530.3L945.0 1530.3L946.0 1530.7L947.0 1530.4L948.0 1531.2L949.0 1531.4L950.0 1531.9L951.0 1531.4L952.0 1531.0L953.0 1530.9L954.0 1530.2L955.0 1531.1L956.0 1531.2L957.0 1531.6L958.0 1531.5L959.0 1531.5L960.0 1531.4L961.0 1531.5L962.0 1531.7L963.0 1530.9L964.0 1531.1L965.0 1530.8L966.0 1531.7L967.0 1531.5L968.0 1531.3L969.0 1530.7L970.0 1531.0L971.0 1530.8L972.0 1530.9L973.0 1530.7L974.0 1530.9L975.0 1530.5L976.0 1530.8L977.0 1530.5L978.0 1530.3L979.0 1530.2L980.0 1530.0L981.0 1530.3L982.0 1529.9L983.0 1530.0L984.0 1529.6L985.0 1529.2L986.0 1529.8L987.0 1529.1L988.0 1529.5L989.0 1529.4L990.0 1528.6L991.0 1528.7L992.0 1528.7L993.0 1528.5L994.0 1528.3L995.0 1528.8L996.0 1528.3L997.0 1528.4L998.0 1528.0L999.0 1528.1L1000.0 1527.7L1001.0 1527.8L1002.0 1527.8L1003.0 1527.5L1004.0 1527.2L1005.0 1526.9L1006.0 1527.2L1007.0 1527.1L1008.0 1526.7L1009.0 1526.4L1010.0 1526.7L1011.0 1527.1L1012.0 1526.1L1013.0 1526.1L1014.0 1525.9L1015.0 1524.9L1016.0 1525.5L1017.0 1525.1L1018.0 1525.6L1019.0 1524.9L1020.0 1524.6L1021.0 1524.6L1022.0 1524.5L1023.0 1524.1L1024.0 1524.1L1025.0 1523.6L1026.0 1523.8L1027.0 1523.9L1028.0 1524.1L1029.0 1523.6L1030.0 1523.3L1031.0 1523.5L1032.0 1523.3L1033.0 1523.3L1034.0 1523.0L1035.0 1522.6L1036.0 1522.5L1037.0 1522.4L1038.0 1522.3L1039.0 1522.2L1040.0 1521.8L1041.0 1521.3L1042.0 1521.6L1043.0 1521.1L1044.0 1521.6L1045.0 1521.4L1046.0 1520.8L1047.0 1521.4L1048.0 1521.4L1049.0 1521.0L1050.0 1521.4L1051.0 1521.3L1052.0 1520.3L1053.0 1520.8L1054.0 1520.5L1055.0 1520.4L1056.0 1520.4L1057.0 1519.8L1058.0 1519.7L1059.0 1519.5L1060.0 1519.4L1061.0 1519.4L1062.0 1518.9L1063.0 1518.8L1064.0 1519.2L1065.0 1518.8L1066.0 1518.8L1067.0 1518.0L1068.0 1518.2L1069.0 1518.1L1070.0 1518.1L1071.0 1517.8L1072.0 1518.1L1073.0 1517.6L1074.0 1517.5L1075.0 1517.3L1076.0 1517.4L1077.0 1516.9L1078.0 1517.2L1079.0 1516.8L1080.0 1516.6L1081.0 1516.4L1082.0 1516.5L1083.0 1516.5L1084.0 1516.3L1085.0 1516.0L1086.0 1515.9L1087.0 1515.4L1088.0 1515.4L1089.0 1514.6L1090.0 1513.5L1091.0 1514.0L1092.0 1513.0L1093.0 1511.9L1094.0 1511.6L1095.0 1510.7L1096.0 1511.0L1097.0 1509.9L1098.0 1508.6L1099.0 1508.6L1100.0 1507.7L1101.0 1507.7L1102.0 1506.2L1103.0 1505.2L1104.0 1505.3L1105.0 1504.5L1106.0 1503.8L1107.0 1502.7L1108.0 1502.8L1109.0 1502.6L1110.0 1500.8L1111.0 1501.1L1112.0 1500.0L1113.0 1500.2L1114.0 1499.0L1115.0 1498.2L1116.0 1497.9L1117.0 1497.3L1118.0 1496.5L1119.0 1496.6L1120.0 1496.1L1121.0 1495.6L1122.0 1496.6L1123.0 1495.9L1124.0 1495.8L1125.0 1496.1L1126.0 1495.6L1127.0 1495.7L1128.0 1496.2L1129.0 1496.4L1130.0 1496.8L1131.0 1497.5L1132.0 1497.5L1133.0 1498.3L1134.0 1498.9L1135.0 1499.0L1136.0 1499.9L1137.0 1500.1L1138.0 1501.3L1139.0 1501.7L1140.0 1502.1L1141.0 1502.2L1142.0 1503.2L1143.0 1503.5L1144.0 1504.5L1145.0 1504.8L1146.0 1505.2L1147.0 1506.3L1148.0 1506.8L1149.0 1506.9L1150.0 1508.0L1151.0 1508.1L1152.0 1508.7L1153.0 1509.4L1154.0 1509.7L1155.0 1510.3L1156.0 1510.8L1157.0 1511.8L1158.0 1512.1L1159.0 1511.9L1160.0 1512.7L1161.0 1512.4L1162.0 1512.7L1163.0 1513.0L1164.0 1513.0L1165.0 1513.8L1166.0 1513.2L1167.0 1513.0L1168.0 1513.9L1169.0 1513.5L1170.0 1513.8L1171.0 1513.2L1172.0 1514.7L1173.0 1514.9L1174.0 1515.2L1175.0 1515.5L1176.0 1516.0L1177.0 1515.8L1178.0 1516.4L1179.0 1516.2L1180.0 1516.6L1181.0 1517.3L1182.0 1517.4L1183.0 1517.2L1184.0 1518.0L1185.0 1518.1L1186.0 1518.2L1187.0 1518.8L1188.0 1518.8L1189.0 1518.8L1190.0 1519.2L1191.0 1520.3L1192.0 1519.5L1193.0 1520.2L1194.0 1520.4L1195.0 1520.5L1196.0 1519.9L1197.0 1520.2L1198.0 1520.2L1199.0 1520.4L1200.0 1519.8L1201.0 1519.6L1202.0 1520.2L1203.0 1520.1L1204.0 1519.8L1205.0 1519.4L1206.0 1519.6L1207.0 1519.4L1208.0 1519.5L1209.0 1518.8L1210.0 1519.2L1211.0 1519.0L1212.0 1518.7L1213.0 1519.0L1214.0 1518.9L1215.0 1518.7L1216.0 1518.9L1217.0 1518.3L1218.0 1518.6L1219.0 1518.7L1220.0 1518.6L1221.0 1518.8L1222.0 1518.0L1223.0 1517.9L1224.0 1518.3L1225.0 1518.3L1226.0 1518.8L1227.0 1518.3L1228.0 1517.7L1229.0 1518.2L1230.0 1517.6L1231.0 1517.4L1232.0 1518.6L1233.0 1517.8L1234.0 1517.9L1235.0 1517.9L1236.0 1518.2L1237.0 1517.7L1238.0 1517.9L1239.0 1517.2L1240.0 1517.1L1241.0 1517.8L1242.0 1517.7L1243.0 1517.1L1244.0 1516.8L1245.0 1516.5L1246.0 1515.9L1247.0 1516.4L1248.0 1516.0L1249.0 1515.9L1250.0 1515.9L1251.0 1516.3L1252.0 1516.2L1253.0 1516.5L1254.0 1516.0L1255.0 1516.7L1256.0 1517.4L1257.0 1516.7L1258.0 1517.0L1259.0 1517.5L1260.0 1517.6L1261.0 1517.7L1262.0 1517.2L1263.0 1518.0L1264.0 1517.7L1265.0 1517.9L1266.0 1518.5L1267.0 1518.4L1268.0 1518.9L1269.0 1519.8L1270.0 1519.3L1271.0 1519.4L1272.0 1519.1L1273.0 1519.4L1274.0 1519.4L1275.0 1519.7L1276.0 1519.7L1277.0 1520.0L1278.0 1520.3L1279.0 1520.1L1280.0 1519.9L1281.0 1519.8L1282.0 1520.2L1283.0 1519.8L1284.0 1519.9L1285.0 1519.6L1286.0 1518.8L1287.0 1518.8L1288.0 1517.7L1289.0 1518.5L1290.0 1517.7L1291.0 1516.8L1292.0 1516.0L1293.0 1515.9L1294.0 1514.5L1295.0 1514.0L1296.0 1513.5L1297.0 1512.3L1298.0 1510.9L1299.0 1509.9L1300.0 1507.7L1301.0 1506.5L1302.0 1504.6L1303.0 1502.8L1304.0 1501.4L1305.0 1499.3L1306.0 1498.5L1307.0 1496.2L1308.0 1495.3L1309.0 1492.8L1310.0 1491.7L1311.0 1489.6L1312.0 1488.1L1313.0 1487.2L1314.0 1486.1L1315.0 1484.5L1316.0 1484.2L1317.0 1482.6L1318.0 1482.1L1319.0 1481.3L1320.0 1480.6L1321.0 1479.1L1322.0 1479.4L1323.0 1478.3L1324.0 1477.3L1325.0 1476.3L1326.0 1475.4L1327.0 1474.8L1328.0 1474.7L1329.0 1473.8L1330.0 1472.9L1331.0 1472.4L1332.0 1472.3L1333.0 1471.1L1334.0 1470.3L1335.0 1470.1L1336.0 1469.1L1337.0 1468.1L1338.0 1467.0L1339.0 1465.6L1340.0 1464.6L1341.0 1463.6L1342.0 1462.3L1343.0 1461.1L1344.0 1459.7L1345.0 1458.0L1346.0 1456.4L1347.0 1454.2L1348.0 1451.9L1349.0 1450.2L1350.0 1447.7L1351.0 1445.2L1352.0 1442.5L1353.0 1439.2L1354.0 1436.1L1355.0 1433.1L1356.0 1429.8L1357.0 1426.2L1358.0 1423.1L1359.0 1419.5L1360.0 1416.0L1361.0 1413.1L1362.0 1410.5L1363.0 1406.6L1364.0 1404.2L1365.0 1401.4L1366.0 1398.6L1367.0 1395.4L1368.0 1394.1L1369.0 1391.8L1370.0 1390.4L1371.0 1389.4L1372.0 1388.7L1373.0 1387.8L1374.0 1387.0L1375.0 1386.9L1376.0 1385.8L1377.0 1385.4L1378.0 1385.7L1379.0 1385.6L1380.0 1385.8L1381.0 1385.4L1382.0 1386.3L1383.0 1386.6L1384.0 1387.5L1385.0 1387.4L1386.0 1388.7L1387.0 1389.7L1388.0 1390.6L1389.0 1392.5L1390.0 1394.8L1391.0 1396.2L1392.0 1398.0L1393.0 1400.2L1394.0 1401.9L1395.0 1403.3L1396.0 1404.0L1397.0 1405.4L1398.0 1406.9L1399.0 1407.6L1400.0 1408.7L1401.0 1410.2L1402.0 1411.5L1403.0 1411.7L1404.0 1412.3L1405.0 1413.6L1406.0 1414.7L1407.0 1415.8L1408.0 1416.9L1409.0 1417.4L1410.0 1418.0L1411.0 1418.9L1412.0 1419.1L1413.0 1419.7L1414.0 1419.5L1415.0 1420.3L1416.0 1419.4L1417.0 1418.5L1418.0 1418.3L1419.0 1418.5L1420.0 1418.4L1421.0 1419.1L1422.0 1419.6L1423.0 1420.7L1424.0 1421.0L1425.0 1421.6L1426.0 1422.4L1427.0 1423.5L1428.0 1425.0L1429.0 1426.3L1430.0 1428.1L1431.0 1429.0L1432.0 1431.0L1433.0 1432.1L1434.0 1433.2L1435.0 1433.6L1436.0 1434.9L1437.0 1436.5L1438.0 1437.6L1439.0 1438.1L1440.0 1439.1L1441.0 1439.6L1442.0 1440.4L1443.0 1441.1L1444.0 1442.3L1445.0 1442.8L1446.0 1443.2L1447.0 1443.8L1448.0 1444.5L1449.0 1444.9L1450.0 1444.9L1451.0 1445.9L1452.0 1445.7L1453.0 1445.7L1454.0 1446.1L1455.0 1445.9L1456.0 1445.2L1457.0 1445.0L1458.0 1444.0L1459.0 1443.5L1460.0 1442.3L1461.0 1442.5L1462.0 1440.8L1463.0 1440.6L1464.0 1439.3L1465.0 1438.2L1466.0 1437.4L1467.0 1436.5L1468.0 1435.5L1469.0 1434.7L1470.0 1433.1L1471.0 1432.0L1472.0 1430.3L1473.0 1429.4L1474.0 1427.8L1475.0 1426.0L1476.0 1424.4L1477.0 1422.5L1478.0 1420.5L1479.0 1418.1L1480.0 1415.1L1481.0 1411.9L1482.0 1409.2L1483.0 1405.3L1484.0 1402.5L1485.0 1400.4L1486.0 1396.5L1487.0 1394.5L1488.0 1392.4L1489.0 1389.3L1490.0 1388.4L1491.0 1384.7L1492.0 1384.1L1493.0 1382.4L1494.0 1380.6L1495.0 1378.6L1496.0 1377.2L1497.0 1375.0L1498.0 1373.8L1499.0 1370.7L1500.0 1368.9L1501.0 1367.6L1502.0 1364.4L1503.0 1363.7L1504.0 1363.5L1505.0 1361.9L1506.0 1363.8L1507.0 1362.7L1508.0 1360.2L1509.0 1360.5L1510.0 1358.3L1511.0 1357.0L1512.0 1356.6L1513.0 1354.6L1514.0 1356.1L1515.0 1353.3L1516.0 1355.3L1517.0 1353.5L1518.0 1354.5L1519.0 1352.2L1520.0 1351.9L1521.0 1350.5L1522.0 1352.5L1523.0 1352.4L1524.0 1353.4L1525.0 1351.4L1526.0 1349.1L1527.0 1347.5L1528.0 1347.6L1529.0 1346.1L1530.0 1347.5L1531.0 1345.6L1532.0 1341.5L1533.0 1340.5L1534.0 1342.9L1535.0 1340.5L1536.0 1339.2L1537.0 1341.2L1538.0 1338.3L1539.0 1338.2L1540.0 1337.7L1541.0 1335.0L1542.0 1339.7L1543.0 1336.2L1544.0 1337.3L1545.0 1337.0L1546.0 1339.6L1547.0 1338.2L1548.0 1338.3L1549.0 1335.1L1550.0 1337.5L1551.0 1334.0L1552.0 1335.9L1553.0 1334.8L1554.0 1333.2L1555.0 1320.1L1556.0 1319.6L1557.0 1333.6L1558.0 1332.6L1559.0 1331.9L1560.0 1326.7L1561.0 1331.1L1562.0 1329.2L1563.0 1333.3L1564.0 1331.8L1565.0 1332.2L1566.0 1330.8L1567.0 1327.1L1568.0 1319.8L1569.0 1330.5L1570.0 1329.9L1571.0 1326.9L1572.0 1310.3L1573.0 1318.5L1574.0 1326.2L1575.0 1325.0L1576.0 1325.9L1577.0 1329.3L1578.0 1328.2L1579.0 1309.7L1580.0 1318.2L1581.0 1328.6L1582.0 1322.8L1583.0 1326.6L1584.0 1325.5L1585.0 1324.5L1586.0 1311.8L1587.0 1317.3L1588.0 1324.6L1589.0 1320.7L1590.0 1321.5L1591.0 1319.0L1592.0 1313.9L1593.0 1316.7L1594.0 1320.9L1595.0 1321.4L1596.0 1309.8L1597.0 1308.0L1598.0 1321.9L1599.0 1317.7L1600.0 1317.0L1601.0 1309.7L1602.0 1313.7L1603.0 1321.4L1604.0 1321.1L1605.0 1319.2L1606.0 1320.8L1607.0 1317.9L1608.0 1311.1L1609.0 1308.7L1610.0 1311.8L1611.0 1317.3L1612.0 1312.0L1613.0 1314.5L1614.0 1303.3L1615.0 1301.7L1616.0 1308.4L1617.0 1309.2L1618.0 1295.7L1619.0 1302.0L1620.0 1304.1L1621.0 1297.2L1622.0 1281.9L1623.0 1285.8L1623.7 1301.2" stroke="#009400" stroke-width="5.3"/>
<path class="cv" d="M110.0 1211.6L110.0 1176.3L111.0 1176.4L112.0 1176.2L113.0 1176.2L114.0 1176.5L115.0 1176.3L116.0 1175.7L117.0 1175.7L118.0 1176.0L119.0 1175.6L120.0 1175.6L121.0 1175.4L122.0 1175.6L123.0 1175.7L124.0 1175.8L125.0 1175.5L126.0 1176.1L127.0 1175.4L128.0 1176.3L129.0 1175.6L130.0 1175.4L131.0 1175.0L132.0 1174.3L133.0 1175.0L134.0 1175.1L135.0 1175.6L136.0 1174.5L137.0 1175.5L138.0 1174.8L139.0 1175.0L140.0 1174.0L141.0 1174.7L142.0 1174.5L143.0 1174.8L144.0 1174.6L145.0 1174.1L146.0 1174.7L147.0 1174.6L148.0 1174.5L149.0 1174.6L150.0 1174.6L151.0 1174.2L152.0 1173.7L153.0 1173.7L154.0 1174.5L155.0 1174.2L156.0 1174.0L157.0 1173.8L158.0 1173.9L159.0 1173.8L160.0 1173.7L161.0 1173.5L162.0 1174.3L163.0 1173.7L164.0 1173.4L165.0 1173.1L166.0 1173.3L167.0 1173.7L168.0 1173.6L169.0 1173.3L170.0 1173.3L171.0 1173.2L172.0 1172.9L173.0 1173.6L174.0 1173.2L175.0 1173.8L176.0 1172.8L177.0 1172.9L178.0 1173.2L179.0 1172.8L180.0 1172.4L181.0 1172.5L182.0 1172.8L183.0 1172.8L184.0 1172.6L185.0 1172.9L186.0 1172.9L187.0 1172.6L188.0 1172.5L189.0 1172.3L190.0 1172.5L191.0 1172.6L192.0 1172.3L193.0 1172.4L194.0 1172.1L195.0 1171.7L196.0 1171.8L197.0 1172.3L198.0 1172.1L199.0 1172.4L200.0 1171.9L201.0 1172.1L202.0 1172.2L203.0 1172.0L204.0 1171.5L205.0 1171.6L206.0 1171.6L207.0 1171.2L208.0 1171.6L209.0 1171.7L210.0 1171.2L211.0 1171.7L212.0 1170.7L213.0 1170.3L214.0 1169.7L215.0 1168.9L216.0 1168.6L217.0 1167.8L218.0 1167.7L219.0 1166.7L220.0 1166.2L221.0 1165.5L222.0 1164.8L223.0 1165.2L224.0 1165.3L225.0 1166.2L226.0 1166.4L227.0 1167.1L228.0 1166.8L229.0 1166.4L230.0 1165.4L231.0 1164.5L232.0 1163.8L233.0 1162.9L234.0 1161.5L235.0 1160.9L236.0 1160.5L237.0 1158.7L238.0 1157.6L239.0 1156.4L240.0 1155.1L241.0 1154.9L242.0 1153.5L243.0 1152.5L244.0 1152.0L245.0 1151.1L246.0 1149.1L247.0 1148.7L248.0 1147.5L249.0 1146.3L250.0 1145.2L251.0 1143.9L252.0 1143.2L253.0 1141.6L254.0 1140.2L255.0 1139.1L256.0 1137.6L257.0 1136.1L258.0 1134.6L259.0 1133.7L260.0 1131.9L261.0 1130.3L262.0 1128.7L263.0 1127.4L264.0 1125.8L265.0 1124.7L266.0 1123.4L267.0 1121.3L268.0 1120.5L269.0 1119.2L270.0 1117.7L271.0 1115.9L272.0 1115.2L273.0 1113.1L274.0 1111.6L275.0 1110.2L276.0 1109.1L277.0 1108.0L278.0 1106.7L279.0 1105.1L280.0 1103.5L281.0 1102.6L282.0 1101.4L283.0 1100.7L284.0 1099.3L285.0 1098.9L286.0 1098.2L287.0 1097.1L288.0 1096.5L289.0 1095.2L290.0 1094.2L291.0 1093.6L292.0 1093.3L293.0 1092.4L294.0 1091.1L295.0 1090.8L296.0 1089.5L297.0 1089.2L298.0 1088.1L299.0 1087.0L300.0 1086.6L301.0 1085.4L302.0 1084.6L303.0 1083.7L304.0 1083.5L305.0 1082.6L306.0 1081.9L307.0 1081.1L308.0 1081.0L309.0 1079.8L310.0 1079.0L311.0 1079.0L312.0 1078.4L313.0 1077.5L314.0 1076.2L315.0 1076.0L316.0 1075.8L317.0 1075.0L318.0 1075.0L319.0 1073.6L320.0 1073.7L321.0 1072.8L322.0 1072.9L323.0 1072.0L324.0 1071.9L325.0 1071.0L326.0 1070.4L327.0 1070.1L328.0 1069.8L329.0 1069.3L330.0 1069.6L331.0 1069.3L332.0 1068.6L333.0 1067.9L334.0 1067.8L335.0 1067.3L336.0 1067.6L337.0 1067.0L338.0 1066.7L339.0 1066.2L340.0 1065.4L341.0 1065.5L342.0 1065.1L343.0 1065.3L344.0 1065.0L345.0 1064.4L346.0 1064.3L347.0 1064.6L348.0 1063.6L349.0 1063.4L350.0 1063.4L351.0 1063.0L352.0 1062.8L353.0 1062.9L354.0 1063.0L355.0 1061.8L356.0 1062.1L357.0 1061.9L358.0 1061.6L359.0 1061.4L360.0 1061.2L361.0 1061.4L362.0 1060.7L363.0 1060.7L364.0 1060.5L365.0 1060.4L366.0 1060.2L367.0 1060.4L368.0 1059.9L369.0 1059.9L370.0 1059.7L371.0 1059.2L372.0 1059.2L373.0 1059.0L374.0 1059.2L375.0 1058.8L376.0 1058.6L377.0 1058.9L378.0 1058.9L379.0 1058.1L380.0 1059.0L381.0 1058.4L382.0 1058.3L383.0 1058.6L384.0 1058.2L385.0 1057.9L386.0 1058.7L387.0 1057.7L388.0 1057.9L389.0 1058.1L390.0 1057.5L391.0 1057.8L392.0 1057.9L393.0 1058.5L394.0 1057.5L395.0 1057.7L396.0 1057.9L397.0 1057.8L398.0 1057.4L399.0 1057.8L400.0 1057.7L401.0 1057.8L402.0 1058.0L403.0 1058.0L404.0 1057.8L405.0 1057.7L406.0 1057.3L407.0 1057.6L408.0 1057.7L409.0 1057.5L410.0 1057.6L411.0 1057.3L412.0 1058.0L413.0 1058.2L414.0 1057.4L415.0 1057.6L416.0 1057.4L417.0 1057.9L418.0 1057.6L419.0 1057.5L420.0 1057.4L421.0 1057.5L422.0 1057.1L423.0 1057.6L424.0 1057.2L425.0 1057.5L426.0 1057.4L427.0 1057.7L428.0 1057.3L429.0 1057.6L430.0 1057.0L431.0 1057.4L432.0 1057.2L433.0 1057.3L434.0 1057.2L435.0 1057.5L436.0 1056.6L437.0 1057.3L438.0 1056.7L439.0 1057.5L440.0 1056.5L441.0 1056.8L442.0 1056.6L443.0 1057.6L444.0 1056.7L445.0 1057.1L446.0 1056.9L447.0 1056.6L448.0 1057.0L449.0 1057.4L450.0 1057.1L451.0 1057.5L452.0 1057.2L453.0 1057.3L454.0 1057.2L455.0 1057.5L456.0 1058.1L457.0 1057.7L458.0 1057.7L459.0 1057.5L460.0 1057.6L461.0 1058.3L462.0 1057.6L463.0 1057.8L464.0 1058.2L465.0 1058.2L466.0 1059.0L467.0 1057.8L468.0 1058.8L469.0 1059.0L470.0 1058.6L471.0 1058.9L472.0 1059.4L473.0 1059.9L474.0 1059.4L475.0 1059.3L476.0 1060.3L477.0 1060.6L478.0 1060.2L479.0 1059.9L480.0 1061.1L481.0 1060.8L482.0 1061.4L483.0 1061.2L484.0 1061.3L485.0 1061.5L486.0 1062.2L487.0 1062.4L488.0 1061.5L489.0 1062.1L490.0 1063.1L491.0 1062.6L492.0 1062.5L493.0 1063.1L494.0 1063.3L495.0 1063.5L496.0 1063.6L497.0 1063.8L498.0 1064.0L499.0 1064.5L500.0 1064.3L501.0 1064.7L502.0 1065.0L503.0 1065.7L504.0 1065.6L505.0 1065.7L506.0 1066.2L507.0 1066.4L508.0 1066.9L509.0 1067.0L510.0 1067.6L511.0 1067.8L512.0 1067.6L513.0 1067.8L514.0 1068.5L515.0 1068.7L516.0 1068.8L517.0 1068.7L518.0 1068.9L519.0 1069.8L520.0 1070.3L521.0 1070.6L522.0 1070.3L523.0 1071.3L524.0 1071.2L525.0 1071.8L526.0 1072.1L527.0 1072.1L528.0 1072.5L529.0 1072.4L530.0 1073.1L531.0 1073.1L532.0 1074.2L533.0 1074.4L534.0 1075.0L535.0 1075.2L536.0 1075.2L537.0 1075.8L538.0 1076.0L539.0 1076.6L540.0 1076.9L541.0 1076.8L542.0 1077.5L543.0 1077.8L544.0 1078.1L545.0 1078.8L546.0 1079.4L547.0 1079.1L548.0 1079.5L549.0 1079.3L550.0 1080.3L551.0 1080.5L552.0 1080.4L553.0 1081.5L554.0 1081.9L555.0 1081.9L556.0 1082.4L557.0 1082.6L558.0 1083.5L559.0 1083.2L560.0 1083.9L561.0 1085.0L562.0 1084.8L563.0 1085.3L564.0 1085.5L565.0 1085.6L566.0 1086.3L567.0 1086.9L568.0 1086.8L569.0 1087.6L570.0 1088.3L571.0 1088.6L572.0 1088.2L573.0 1088.7L574.0 1088.9L575.0 1090.1L576.0 1090.3L577.0 1090.7L578.0 1090.6L579.0 1090.9L580.0 1091.6L581.0 1091.9L582.0 1092.0L583.0 1092.6L584.0 1093.1L585.0 1093.3L586.0 1093.3L587.0 1093.3L588.0 1094.2L589.0 1094.6L590.0 1094.8L591.0 1095.1L592.0 1095.4L593.0 1096.1L594.0 1096.2L595.0 1096.6L596.0 1096.6L597.0 1097.1L598.0 1097.7L599.0 1097.7L600.0 1097.9L601.0 1098.6L602.0 1099.4L603.0 1099.4L604.0 1100.2L605.0 1100.0L606.0 1100.3L607.0 1100.4L608.0 1101.0L609.0 1102.0L610.0 1102.0L611.0 1102.5L612.0 1102.8L613.0 1103.0L614.0 1103.3L615.0 1103.8L616.0 1104.3L617.0 1104.6L618.0 1105.0L619.0 1105.2L620.0 1105.3L621.0 1105.8L622.0 1106.0L623.0 1106.9L624.0 1106.4L625.0 1107.3L626.0 1108.4L627.0 1108.0L628.0 1108.1L629.0 1108.7L630.0 1109.5L631.0 1109.4L632.0 1110.0L633.0 1110.2L634.0 1110.4L635.0 1111.8L636.0 1111.2L637.0 1111.4L638.0 1111.7L639.0 1112.3L640.0 1112.7L641.0 1113.1L642.0 1113.2L643.0 1113.1L644.0 1114.0L645.0 1114.1L646.0 1114.4L647.0 1114.4L648.0 1115.0L649.0 1115.3L650.0 1115.8L651.0 1115.7L652.0 1116.5L653.0 1116.8L654.0 1116.7L655.0 1117.2L656.0 1117.4L657.0 1118.3L658.0 1117.5L659.0 1118.5L660.0 1118.4L661.0 1119.1L662.0 1119.7L663.0 1119.6L664.0 1120.1L665.0 1120.1L666.0 1121.3L667.0 1121.2L668.0 1121.6L669.0 1121.2L670.0 1121.5L671.0 1122.5L672.0 1122.4L673.0 1122.7L674.0 1123.1L675.0 1122.9L676.0 1123.8L677.0 1123.9L678.0 1124.3L679.0 1124.3L680.0 1124.9L681.0 1124.8L682.0 1125.6L683.0 1126.0L684.0 1126.2L685.0 1126.3L686.0 1126.7L687.0 1125.9L688.0 1127.3L689.0 1127.2L690.0 1127.6L691.0 1127.8L692.0 1127.7L693.0 1128.2L694.0 1128.9L695.0 1129.4L696.0 1129.0L697.0 1129.2L698.0 1130.2L699.0 1129.7L700.0 1130.9L701.0 1130.5L702.0 1130.5L703.0 1131.3L704.0 1131.7L705.0 1131.0L706.0 1132.1L707.0 1131.8L708.0 1132.5L709.0 1132.2L710.0 1132.0L711.0 1132.9L712.0 1133.2L713.0 1133.7L714.0 1133.8L715.0 1133.7L716.0 1133.6L717.0 1133.7L718.0 1133.9L719.0 1133.9L720.0 1134.3L721.0 1133.7L722.0 1134.7L723.0 1134.8L724.0 1135.8L725.0 1135.4L726.0 1135.2L727.0 1135.7L728.0 1135.3L729.0 1135.6L730.0 1135.4L731.0 1136.5L732.0 1136.4L733.0 1136.0L734.0 1136.4L735.0 1136.9L736.0 1136.8L737.0 1136.9L738.0 1136.6L739.0 1136.8L740.0 1137.1L741.0 1137.4L742.0 1137.0L743.0 1137.0L744.0 1137.7L745.0 1137.2L746.0 1137.8L747.0 1137.6L748.0 1137.9L749.0 1138.2L750.0 1137.9L751.0 1138.0L752.0 1137.5L753.0 1137.6L754.0 1138.1L755.0 1138.4L756.0 1138.3L757.0 1138.6L758.0 1138.0L759.0 1138.0L760.0 1138.2L761.0 1137.9L762.0 1137.9L763.0 1137.6L764.0 1138.2L765.0 1137.5L766.0 1138.0L767.0 1137.4L768.0 1138.1L769.0 1137.4L770.0 1137.9L771.0 1137.2L772.0 1137.5L773.0 1137.9L774.0 1137.2L775.0 1137.5L776.0 1137.2L777.0 1136.6L778.0 1137.4L779.0 1137.3L780.0 1136.8L781.0 1137.3L782.0 1136.8L783.0 1136.7L784.0 1136.9L785.0 1136.6L786.0 1137.5L787.0 1136.2L788.0 1136.9L789.0 1136.9L790.0 1135.9L791.0 1135.9L792.0 1136.5L793.0 1136.1L794.0 1136.3L795.0 1136.5L796.0 1135.9L797.0 1135.6L798.0 1135.0L799.0 1135.8L800.0 1135.4L801.0 1135.7L802.0 1135.6L803.0 1135.0L804.0 1135.8L805.0 1135.5L806.0 1135.4L807.0 1134.7L808.0 1134.8L809.0 1134.7L810.0 1134.7L811.0 1134.5L812.0 1135.0L813.0 1134.9L814.0 1135.0L815.0 1134.8L816.0 1135.4L817.0 1135.0L818.0 1134.1L819.0 1134.6L820.0 1134.4L821.0 1134.1L822.0 1133.1L823.0 1132.5L824.0 1131.8L825.0 1131.7L826.0 1131.0L827.0 1130.8L828.0 1130.7L829.0 1131.2L830.0 1131.0L831.0 1131.1L832.0 1132.4L833.0 1133.0L834.0 1134.3L835.0 1135.3L836.0 1136.5L837.0 1137.0L838.0 1136.8L839.0 1137.0L840.0 1136.7L841.0 1137.6L842.0 1137.2L843.0 1137.5L844.0 1136.9L845.0 1136.3L846.0 1137.2L847.0 1136.6L848.0 1136.4L849.0 1136.2L850.0 1136.2L851.0 1135.9L852.0 1135.1L853.0 1135.8L854.0 1135.3L855.0 1135.3L856.0 1135.9L857.0 1135.7L858.0 1135.4L859.0 1135.0L860.0 1135.7L861.0 1135.9L862.0 1135.8L863.0 1135.6L864.0 1135.8L865.0 1135.8L866.0 1136.4L867.0 1136.8L868.0 1137.0L869.0 1136.6L870.0 1137.1L871.0 1137.4L872.0 1137.3L873.0 1137.6L874.0 1138.4L875.0 1138.1L876.0 1138.5L877.0 1138.3L878.0 1138.7L879.0 1138.3L880.0 1139.0L881.0 1139.6L882.0 1140.0L883.0 1139.9L884.0 1140.0L885.0 1139.9L886.0 1139.9L887.0 1140.2L888.0 1140.5L889.0 1140.3L890.0 1140.9L891.0 1140.5L892.0 1140.4L893.0 1140.8L894.0 1140.7L895.0 1140.9L896.0 1141.8L897.0 1141.5L898.0 1141.8L899.0 1142.2L900.0 1142.3L901.0 1141.9L902.0 1142.6L903.0 1142.4L904.0 1142.4L905.0 1142.7L906.0 1142.2L907.0 1142.5L908.0 1142.8L909.0 1143.1L910.0 1142.9L911.0 1143.1L912.0 1143.5L913.0 1143.7L914.0 1143.6L915.0 1143.8L916.0 1143.4L917.0 1143.5L918.0 1143.8L919.0 1143.7L920.0 1143.7L921.0 1144.4L922.0 1143.9L923.0 1143.8L924.0 1144.3L925.0 1144.7L926.0 1144.3L927.0 1144.7L928.0 1144.2L929.0 1144.3L930.0 1144.2L931.0 1144.5L932.0 1145.1L933.0 1144.3L934.0 1145.1L935.0 1144.4L936.0 1144.7L937.0 1145.0L938.0 1145.0L939.0 1144.9L940.0 1144.4L941.0 1145.0L942.0 1144.6L943.0 1145.7L944.0 1144.9L945.0 1145.1L946.0 1144.7L947.0 1144.9L948.0 1144.7L949.0 1145.4L950.0 1145.0L951.0 1145.3L952.0 1144.9L953.0 1145.0L954.0 1145.5L955.0 1144.8L956.0 1144.6L957.0 1145.2L958.0 1144.8L959.0 1144.9L960.0 1145.3L961.0 1144.8L962.0 1145.3L963.0 1144.8L964.0 1145.4L965.0 1145.4L966.0 1144.8L967.0 1144.8L968.0 1144.6L969.0 1144.9L970.0 1145.1L971.0 1144.3L972.0 1145.0L973.0 1144.3L974.0 1144.4L975.0 1144.0L976.0 1145.2L977.0 1144.5L978.0 1144.5L979.0 1144.2L980.0 1144.6L981.0 1143.6L982.0 1144.2L983.0 1144.8L984.0 1143.9L985.0 1144.0L986.0 1144.1L987.0 1143.6L988.0 1143.8L989.0 1144.0L990.0 1143.7L991.0 1143.7L992.0 1143.4L993.0 1143.5L994.0 1143.3L995.0 1143.7L996.0 1143.4L997.0 1143.0L998.0 1142.2L999.0 1143.1L1000.0 1143.0L1001.0 1142.4L1002.0 1142.0L1003.0 1142.2L1004.0 1142.7L1005.0 1142.0L1006.0 1142.1L1007.0 1142.2L1008.0 1142.4L1009.0 1141.9L1010.0 1141.7L1011.0 1141.5L1012.0 1142.0L1013.0 1141.7L1014.0 1141.2L1015.0 1140.7L1016.0 1140.8L1017.0 1141.1L1018.0 1140.5L1019.0 1140.9L1020.0 1140.6L1021.0 1140.5L1022.0 1140.5L1023.0 1140.3L1024.0 1139.8L1025.0 1139.8L1026.0 1140.5L1027.0 1139.3L1028.0 1139.4L1029.0 1139.8L1030.0 1139.3L1031.0 1139.0L1032.0 1138.7L1033.0 1139.2L1034.0 1139.3L1035.0 1139.3L1036.0 1138.8L1037.0 1139.0L1038.0 1138.3L1039.0 1138.6L1040.0 1138.3L1041.0 1138.4L1042.0 1138.5L1043.0 1138.5L1044.0 1137.9L1045.0 1138.5L1046.0 1137.9L1047.0 1137.6L1048.0 1137.8L1049.0 1137.3L1050.0 1137.7L1051.0 1137.7L1052.0 1137.5L1053.0 1137.6L1054.0 1137.3L1055.0 1137.3L1056.0 1136.7L1057.0 1137.1L1058.0 1136.7L1059.0 1136.7L1060.0 1136.7L1061.0 1136.7L1062.0 1136.1L1063.0 1136.0L1064.0 1136.2L1065.0 1136.3L1066.0 1136.2L1067.0 1136.2L1068.0 1136.2L1069.0 1135.9L1070.0 1135.6L1071.0 1135.1L1072.0 1135.0L1073.0 1135.0L1074.0 1135.1L1075.0 1135.0L1076.0 1134.8L1077.0 1134.6L1078.0 1134.7L1079.0 1134.5L1080.0 1134.4L1081.0 1134.2L1082.0 1133.9L1083.0 1133.6L1084.0 1133.9L1085.0 1133.7L1086.0 1133.3L1087.0 1133.0L1088.0 1133.6L1089.0 1132.4L1090.0 1132.2L1091.0 1131.9L1092.0 1131.0L1093.0 1130.9L1094.0 1130.8L1095.0 1129.9L1096.0 1129.2L1097.0 1128.5L1098.0 1127.7L1099.0 1127.3L1100.0 1126.2L1101.0 1125.5L1102.0 1124.9L1103.0 1124.5L1104.0 1123.6L1105.0 1123.0L1106.0 1121.5L1107.0 1121.7L1108.0 1121.4L1109.0 1120.4L1110.0 1119.1L1111.0 1118.3L1112.0 1117.9L1113.0 1116.8L1114.0 1116.7L1115.0 1115.7L1116.0 1115.5L1117.0 1115.0L1118.0 1113.4L1119.0 1113.5L1120.0 1112.7L1121.0 1111.9L1122.0 1111.6L1123.0 1111.2L1124.0 1111.1L1125.0 1109.8L1126.0 1110.0L1127.0 1109.7L1128.0 1108.8L1129.0 1108.2L1130.0 1107.5L1131.0 1106.7L1132.0 1106.8L1133.0 1106.7L1134.0 1106.9L1135.0 1107.8L1136.0 1107.8L1137.0 1108.4L1138.0 1109.5L1139.0 1109.5L1140.0 1110.4L1141.0 1111.6L1142.0 1112.5L1143.0 1114.0L1144.0 1114.7L1145.0 1116.4L1146.0 1117.4L1147.0 1118.0L1148.0 1118.5L1149.0 1119.7L1150.0 1120.5L1151.0 1120.6L1152.0 1121.7L1153.0 1122.3L1154.0 1122.6L1155.0 1123.3L1156.0 1123.4L1157.0 1122.7L1158.0 1122.9L1159.0 1122.4L1160.0 1122.5L1161.0 1121.8L1162.0 1122.1L1163.0 1121.7L1164.0 1121.7L1165.0 1121.3L1166.0 1120.9L1167.0 1122.1L1168.0 1121.8L1169.0 1122.6L1170.0 1122.6L1171.0 1123.1L1172.0 1123.8L1173.0 1123.8L1174.0 1124.5L1175.0 1124.1L1176.0 1125.3L1177.0 1125.5L1178.0 1126.2L1179.0 1126.9L1180.0 1127.7L1181.0 1128.8L1182.0 1128.4L1183.0 1129.6L1184.0 1130.0L1185.0 1131.2L1186.0 1131.2L1187.0 1131.8L1188.0 1132.0L1189.0 1132.6L1190.0 1133.1L1191.0 1132.9L1192.0 1133.3L1193.0 1133.1L1194.0 1133.9L1195.0 1134.2L1196.0 1134.0L1197.0 1134.6L1198.0 1133.8L1199.0 1133.9L1200.0 1134.2L1201.0 1134.5L1202.0 1134.7L1203.0 1134.8L1204.0 1134.8L1205.0 1135.1L1206.0 1134.8L1207.0 1134.6L1208.0 1134.6L1209.0 1135.6L1210.0 1134.2L1211.0 1134.8L1212.0 1135.3L1213.0 1134.9L1214.0 1134.4L1215.0 1134.6L1216.0 1134.8L1217.0 1134.8L1218.0 1134.0L1219.0 1134.4L1220.0 1134.1L1221.0 1134.2L1222.0 1134.2L1223.0 1133.5L1224.0 1132.9L1225.0 1133.2L1226.0 1133.2L1227.0 1132.5L1228.0 1132.0L1229.0 1132.4L1230.0 1131.1L1231.0 1131.6L1232.0 1131.2L1233.0 1131.6L1234.0 1131.9L1235.0 1132.7L1236.0 1132.4L1237.0 1133.0L1238.0 1133.0L1239.0 1133.8L1240.0 1133.6L1241.0 1133.8L1242.0 1133.4L1243.0 1133.6L1244.0 1134.0L1245.0 1133.6L1246.0 1133.9L1247.0 1133.8L1248.0 1133.6L1249.0 1133.2L1250.0 1134.0L1251.0 1133.8L1252.0 1134.1L1253.0 1133.2L1254.0 1133.4L1255.0 1133.3L1256.0 1133.7L1257.0 1134.3L1258.0 1134.1L1259.0 1134.0L1260.0 1134.0L1261.0 1134.2L1262.0 1133.9L1263.0 1134.1L1264.0 1134.0L1265.0 1133.3L1266.0 1133.8L1267.0 1134.3L1268.0 1133.8L1269.0 1133.9L1270.0 1133.7L1271.0 1133.7L1272.0 1134.1L1273.0 1133.6L1274.0 1133.3L1275.0 1132.5L1276.0 1133.1L1277.0 1132.5L1278.0 1132.3L1279.0 1132.9L1280.0 1132.7L1281.0 1131.6L1282.0 1132.2L1283.0 1131.8L1284.0 1131.2L1285.0 1131.4L1286.0 1130.2L1287.0 1129.8L1288.0 1129.0L1289.0 1128.3L1290.0 1128.0L1291.0 1126.3L1292.0 1125.2L1293.0 1124.0L1294.0 1123.0L1295.0 1121.3L1296.0 1120.0L1297.0 1117.7L1298.0 1115.5L1299.0 1113.6L1300.0 1111.4L1301.0 1108.7L1302.0 1106.5L1303.0 1104.2L1304.0 1100.7L1305.0 1098.0L1306.0 1095.5L1307.0 1092.2L1308.0 1089.5L1309.0 1086.9L1310.0 1084.8L1311.0 1082.5L1312.0 1080.2L1313.0 1078.4L1314.0 1077.3L1315.0 1075.8L1316.0 1073.9L1317.0 1073.1L1318.0 1072.0L1319.0 1071.1L1320.0 1069.8L1321.0 1068.6L1322.0 1067.7L1323.0 1066.3L1324.0 1065.9L1325.0 1064.8L1326.0 1064.2L1327.0 1062.9L1328.0 1062.2L1329.0 1061.1L1330.0 1060.2L1331.0 1059.9L1332.0 1058.6L1333.0 1058.0L1334.0 1056.6L1335.0 1056.0L1336.0 1054.5L1337.0 1053.8L1338.0 1052.7L1339.0 1051.9L1340.0 1050.6L1341.0 1049.2L1342.0 1048.2L1343.0 1046.7L1344.0 1045.4L1345.0 1044.1L1346.0 1042.4L1347.0 1040.9L1348.0 1039.5L1349.0 1037.6L1350.0 1036.1L1351.0 1034.3L1352.0 1032.1L1353.0 1029.3L1354.0 1026.4L1355.0 1024.2L1356.0 1021.5L1357.0 1019.2L1358.0 1016.1L1359.0 1013.4L1360.0 1011.0L1361.0 1007.9L1362.0 1005.2L1363.0 1003.0L1364.0 1000.1L1365.0 997.0L1366.0 994.2L1367.0 991.2L1368.0 989.7L1369.0 988.1L1370.0 987.2L1371.0 986.3L1372.0 986.1L1373.0 985.8L1374.0 985.7L1375.0 986.0L1376.0 985.7L1377.0 985.2L1378.0 985.7L1379.0 986.0L1380.0 986.6L1381.0 987.4L1382.0 987.8L1383.0 988.2L1384.0 989.3L1385.0 990.2L1386.0 991.7L1387.0 993.7L1388.0 995.8L1389.0 998.5L1390.0 999.7L1391.0 1002.5L1392.0 1004.5L1393.0 1006.0L1394.0 1008.1L1395.0 1009.9L1396.0 1012.1L1397.0 1014.3L1398.0 1016.1L1399.0 1018.4L1400.0 1020.4L1401.0 1022.2L1402.0 1024.2L1403.0 1026.1L1404.0 1028.2L1405.0 1029.6L1406.0 1031.9L1407.0 1033.6L1408.0 1034.9L1409.0 1037.1L1410.0 1036.9L1411.0 1037.2L1412.0 1037.5L1413.0 1036.7L1414.0 1037.0L1415.0 1036.5L1416.0 1036.3L1417.0 1036.2L1418.0 1035.9L1419.0 1035.9L1420.0 1035.8L1421.0 1036.0L1422.0 1036.1L1423.0 1036.0L1424.0 1036.9L1425.0 1036.8L1426.0 1037.2L1427.0 1038.3L1428.0 1038.7L1429.0 1039.1L1430.0 1040.0L1431.0 1040.7L1432.0 1040.8L1433.0 1041.9L1434.0 1042.4L1435.0 1043.6L1436.0 1044.1L1437.0 1045.5L1438.0 1046.0L1439.0 1046.3L1440.0 1047.2L1441.0 1047.4L1442.0 1048.4L1443.0 1049.1L1444.0 1049.5L1445.0 1049.4L1446.0 1050.3L1447.0 1051.0L1448.0 1051.3L1449.0 1051.9L1450.0 1051.3L1451.0 1051.9L1452.0 1051.4L1453.0 1051.5L1454.0 1051.2L1455.0 1051.0L1456.0 1050.2L1457.0 1050.1L1458.0 1049.3L1459.0 1048.7L1460.0 1048.8L1461.0 1047.9L1462.0 1046.6L1463.0 1045.9L1464.0 1044.9L1465.0 1043.9L1466.0 1042.1L1467.0 1040.2L1468.0 1037.3L1469.0 1035.7L1470.0 1033.5L1471.0 1031.2L1472.0 1028.8L1473.0 1026.2L1474.0 1024.4L1475.0 1022.0L1476.0 1019.0L1477.0 1016.2L1478.0 1014.5L1479.0 1011.0L1480.0 1008.6L1481.0 1005.7L1482.0 1001.3L1483.0 998.0L1484.0 994.0L1485.0 990.6L1486.0 987.0L1487.0 984.3L1488.0 980.6L1489.0 977.4L1490.0 974.9L1491.0 971.8L1492.0 969.5L1493.0 968.1L1494.0 965.1L1495.0 963.3L1496.0 961.6L1497.0 959.4L1498.0 957.1L1499.0 956.8L1500.0 954.2L1501.0 952.7L1502.0 951.2L1503.0 949.4L1504.0 948.1L1505.0 948.0L1506.0 949.0L1507.0 946.8L1508.0 946.1L1509.0 943.1L1510.0 944.0L1511.0 942.1L1512.0 943.8L1513.0 942.3L1514.0 942.3L1515.0 941.9L1516.0 940.9L1517.0 939.2L1518.0 941.5L1519.0 938.1L1520.0 937.5L1521.0 937.8L1522.0 936.3L1523.0 936.6L1524.0 936.6L1525.0 934.6L1526.0 933.5L1527.0 932.3L1528.0 932.6L1529.0 927.8L1530.0 930.1L1531.0 927.2L1532.0 925.9L1533.0 926.8L1534.0 925.4L1535.0 926.0L1536.0 926.1L1537.0 920.1L1538.0 923.0L1539.0 925.6L1540.0 923.3L1541.0 923.7L1542.0 921.1L1543.0 918.2L1544.0 918.2L1545.0 920.7L1546.0 920.7L1547.0 917.4L1548.0 917.8L1549.0 918.2L1550.0 914.4L1551.0 916.4L1552.0 919.3L1553.0 919.9L1554.0 915.5L1555.0 918.5L1556.0 913.9L1557.0 912.7L1558.0 909.2L1559.0 914.0L1560.0 910.6L1561.0 914.5L1562.0 910.1L1563.0 909.2L1564.0 905.6L1565.0 912.6L1566.0 910.4L1567.0 912.0L1568.0 908.9L1569.0 915.0L1570.0 914.5L1571.0 910.7L1572.0 911.1L1573.0 910.7L1574.0 910.9L1575.0 908.2L1576.0 910.7L1577.0 906.2L1578.0 905.1L1579.0 905.1L1580.0 900.6L1581.0 903.8L1582.0 907.2L1583.0 905.4L1584.0 902.9L1585.0 905.0L1586.0 899.7L1587.0 903.1L1588.0 904.5L1589.0 904.6L1590.0 901.2L1591.0 904.5L1592.0 906.4L1593.0 901.1L1594.0 903.4L1595.0 897.9L1596.0 895.5L1597.0 899.5L1598.0 896.0L1599.0 894.2L1600.0 890.5L1601.0 890.1L1602.0 892.3L1603.0 894.3L1604.0 888.2L1605.0 883.4L1606.0 891.6L1607.0 889.2L1608.0 889.1L1609.0 887.0L1610.0 893.7L1611.0 885.7L1612.0 886.9L1613.0 878.2L1614.0 882.7L1615.0 882.6L1616.0 885.8L1617.0 888.4L1618.0 885.7L1619.0 897.7L1620.0 888.6L1621.0 893.4L1622.0 898.6L1623.0 894.4L1624.0 904.8L1624.9 907.3" stroke="#0000f0" stroke-width="5.3"/>
<path class="cv" d="M110.0 824.5L110.0 803.5L111.0 804.0L112.0 803.4L113.0 803.5L114.0 803.1L115.0 802.8L116.0 803.1L117.0 803.2L118.0 803.1L119.0 803.4L120.0 802.4L121.0 802.8L122.0 802.5L123.0 803.4L124.0 802.8L125.0 802.8L126.0 802.6L127.0 803.2L128.0 802.8L129.0 802.9L130.0 802.2L131.0 803.1L132.0 802.9L133.0 802.9L134.0 803.0L135.0 802.6L136.0 802.6L137.0 802.8L138.0 802.7L139.0 802.4L140.0 802.5L141.0 802.3L142.0 802.6L143.0 802.7L144.0 802.3L145.0 802.9L146.0 801.8L147.0 802.2L148.0 802.7L149.0 802.0L150.0 801.7L151.0 802.5L152.0 802.2L153.0 801.7L154.0 802.2L155.0 801.7L156.0 801.5L157.0 801.9L158.0 801.7L159.0 801.5L160.0 801.7L161.0 801.5L162.0 801.8L163.0 801.7L164.0 801.9L165.0 801.5L166.0 801.2L167.0 801.2L168.0 801.5L169.0 802.0L170.0 801.7L171.0 801.3L172.0 801.7L173.0 801.0L174.0 801.7L175.0 801.2L176.0 801.5L177.0 801.4L178.0 801.1L179.0 801.3L180.0 800.8L181.0 801.1L182.0 801.4L183.0 802.3L184.0 801.2L185.0 801.0L186.0 800.7L187.0 801.3L188.0 800.4L189.0 800.7L190.0 801.0L191.0 800.6L192.0 801.4L193.0 801.3L194.0 800.8L195.0 800.8L196.0 800.5L197.0 800.5L198.0 801.0L199.0 801.0L200.0 800.8L201.0 800.7L202.0 800.3L203.0 800.4L204.0 799.7L205.0 800.0L206.0 800.2L207.0 799.8L208.0 799.0L209.0 798.7L210.0 798.8L211.0 798.4L212.0 796.9L213.0 796.5L214.0 796.0L215.0 795.6L216.0 794.2L217.0 793.8L218.0 792.7L219.0 792.8L220.0 791.4L221.0 790.5L222.0 789.8L223.0 789.6L224.0 788.8L225.0 787.7L226.0 787.5L227.0 786.4L228.0 786.0L229.0 785.2L230.0 784.5L231.0 784.1L232.0 783.3L233.0 782.9L234.0 782.1L235.0 780.9L236.0 779.6L237.0 779.1L238.0 777.2L239.0 776.1L240.0 775.7L241.0 774.5L242.0 773.4L243.0 771.8L244.0 770.3L245.0 769.3L246.0 768.4L247.0 766.7L248.0 765.5L249.0 764.1L250.0 762.9L251.0 762.2L252.0 760.7L253.0 758.9L254.0 757.5L255.0 756.1L256.0 754.9L257.0 752.8L258.0 751.4L259.0 749.0L260.0 747.4L261.0 745.9L262.0 744.1L263.0 741.4L264.0 739.4L265.0 737.8L266.0 735.3L267.0 733.2L268.0 731.5L269.0 729.4L270.0 727.7L271.0 725.7L272.0 723.4L273.0 721.7L274.0 719.9L275.0 717.6L276.0 715.9L277.0 714.7L278.0 712.1L279.0 711.1L280.0 709.2L281.0 707.3L282.0 705.9L283.0 704.2L284.0 702.8L285.0 700.8L286.0 699.3L287.0 697.9L288.0 697.1L289.0 695.4L290.0 693.5L291.0 692.3L292.0 690.9L293.0 689.9L294.0 688.7L295.0 688.1L296.0 685.7L297.0 685.3L298.0 684.0L299.0 682.5L300.0 681.5L301.0 680.3L302.0 679.4L303.0 678.6L304.0 676.8L305.0 676.7L306.0 675.2L307.0 674.7L308.0 673.5L309.0 672.8L310.0 671.6L311.0 670.9L312.0 669.7L313.0 668.5L314.0 668.1L315.0 667.2L316.0 666.7L317.0 664.7L318.0 664.4L319.0 663.9L320.0 662.4L321.0 661.9L322.0 661.8L323.0 660.8L324.0 659.3L325.0 659.2L326.0 658.3L327.0 657.4L328.0 656.5L329.0 655.7L330.0 654.6L331.0 653.9L332.0 653.6L333.0 652.6L334.0 652.4L335.0 651.0L336.0 649.7L337.0 649.6L338.0 649.0L339.0 648.4L340.0 647.6L341.0 646.6L342.0 646.6L343.0 645.3L344.0 645.0L345.0 644.1L346.0 643.2L347.0 643.3L348.0 641.5L349.0 641.4L350.0 641.2L351.0 640.3L352.0 640.1L353.0 639.2L354.0 638.6L355.0 638.8L356.0 637.5L357.0 637.0L358.0 636.2L359.0 635.8L360.0 635.7L361.0 635.2L362.0 634.5L363.0 633.8L364.0 633.8L365.0 632.6L366.0 632.5L367.0 632.1L368.0 631.5L369.0 631.3L370.0 630.6L371.0 630.2L372.0 630.5L373.0 629.8L374.0 629.5L375.0 628.8L376.0 628.7L377.0 628.2L378.0 628.0L379.0 628.0L380.0 626.8L381.0 626.6L382.0 626.2L383.0 624.8L384.0 625.1L385.0 625.3L386.0 625.1L387.0 624.5L388.0 624.7L389.0 624.5L390.0 623.7L391.0 624.1L392.0 623.9L393.0 623.3L394.0 622.7L395.0 623.2L396.0 622.5L397.0 622.2L398.0 622.2L399.0 621.8L400.0 622.1L401.0 621.8L402.0 621.8L403.0 621.4L404.0 620.8L405.0 620.8L406.0 621.0L407.0 620.4L408.0 621.3L409.0 620.2L410.0 619.9L411.0 620.3L412.0 620.1L413.0 619.7L414.0 619.5L415.0 619.6L416.0 619.6L417.0 619.4L418.0 619.0L419.0 619.1L420.0 619.1L421.0 619.0L422.0 617.8L423.0 618.3L424.0 618.3L425.0 618.3L426.0 618.4L427.0 618.5L428.0 618.3L429.0 618.0L430.0 618.0L431.0 618.4L432.0 617.6L433.0 617.9L434.0 618.2L435.0 617.7L436.0 616.9L437.0 617.6L438.0 617.3L439.0 617.4L440.0 617.6L441.0 617.4L442.0 617.2L443.0 617.5L444.0 617.3L445.0 617.1L446.0 617.2L447.0 617.1L448.0 616.9L449.0 616.9L450.0 617.0L451.0 616.7L452.0 616.6L453.0 617.4L454.0 617.0L455.0 617.1L456.0 617.1L457.0 617.1L458.0 617.2L459.0 617.3L460.0 617.1L461.0 617.7L462.0 617.3L463.0 617.9L464.0 617.1L465.0 617.5L466.0 618.2L467.0 618.0L468.0 618.0L469.0 618.5L470.0 618.3L471.0 618.8L472.0 618.4L473.0 619.1L474.0 619.3L475.0 619.9L476.0 620.2L477.0 620.0L478.0 621.0L479.0 620.6L480.0 620.4L481.0 620.5L482.0 622.0L483.0 621.8L484.0 621.9L485.0 622.1L486.0 622.2L487.0 623.2L488.0 623.1L489.0 623.9L490.0 623.6L491.0 623.2L492.0 624.5L493.0 624.4L494.0 624.7L495.0 625.6L496.0 625.3L497.0 626.1L498.0 626.1L499.0 626.2L500.0 626.9L501.0 626.9L502.0 627.8L503.0 628.1L504.0 628.2L505.0 628.8L506.0 629.1L507.0 629.3L508.0 630.1L509.0 630.1L510.0 630.8L511.0 630.8L512.0 631.5L513.0 632.0L514.0 632.1L515.0 632.7L516.0 633.1L517.0 633.9L518.0 633.9L519.0 634.7L520.0 635.5L521.0 635.6L522.0 635.5L523.0 636.5L524.0 637.2L525.0 637.3L526.0 638.2L527.0 638.6L528.0 639.0L529.0 639.3L530.0 639.7L531.0 640.2L532.0 640.8L533.0 641.4L534.0 641.9L535.0 642.2L536.0 642.8L537.0 643.3L538.0 643.2L539.0 644.0L540.0 644.5L541.0 645.1L542.0 645.6L543.0 646.1L544.0 646.4L545.0 647.4L546.0 647.8L547.0 647.7L548.0 648.7L549.0 648.9L550.0 650.3L551.0 650.2L552.0 650.7L553.0 651.4L554.0 651.9L555.0 652.5L556.0 653.5L557.0 653.7L558.0 654.4L559.0 655.0L560.0 655.0L561.0 656.3L562.0 656.6L563.0 657.2L564.0 657.2L565.0 658.3L566.0 658.7L567.0 659.0L568.0 660.4L569.0 660.4L570.0 660.7L571.0 661.4L572.0 662.2L573.0 662.8L574.0 663.2L575.0 663.9L576.0 664.5L577.0 664.3L578.0 665.0L579.0 665.5L580.0 666.3L581.0 667.3L582.0 667.6L583.0 667.6L584.0 668.4L585.0 669.3L586.0 669.4L587.0 670.1L588.0 670.8L589.0 670.7L590.0 672.0L591.0 672.4L592.0 673.1L593.0 673.1L594.0 673.7L595.0 674.3L596.0 675.2L597.0 675.6L598.0 676.2L599.0 677.3L600.0 677.7L601.0 677.6L602.0 678.2L603.0 679.4L604.0 679.4L605.0 680.4L606.0 681.0L607.0 680.9L608.0 681.6L609.0 682.2L610.0 682.5L611.0 683.0L612.0 683.7L613.0 684.6L614.0 684.8L615.0 685.4L616.0 685.9L617.0 686.2L618.0 687.6L619.0 687.0L620.0 688.0L621.0 688.9L622.0 688.9L623.0 690.0L624.0 690.8L625.0 690.7L626.0 691.6L627.0 691.7L628.0 692.8L629.0 693.2L630.0 693.8L631.0 694.7L632.0 695.0L633.0 695.8L634.0 696.1L635.0 696.1L636.0 697.1L637.0 697.7L638.0 697.7L639.0 699.1L640.0 699.2L641.0 699.9L642.0 700.1L643.0 700.9L644.0 701.5L645.0 701.9L646.0 702.6L647.0 702.5L648.0 704.0L649.0 703.9L650.0 704.1L651.0 705.0L652.0 705.6L653.0 706.6L654.0 706.7L655.0 707.6L656.0 707.8L657.0 709.3L658.0 709.3L659.0 710.3L660.0 710.0L661.0 711.0L662.0 711.1L663.0 712.1L664.0 712.7L665.0 712.5L666.0 713.2L667.0 713.8L668.0 714.2L669.0 715.0L670.0 715.5L671.0 715.9L672.0 716.9L673.0 717.6L674.0 717.6L675.0 718.4L676.0 719.1L677.0 719.5L678.0 719.9L679.0 720.9L680.0 721.5L681.0 721.9L682.0 722.2L683.0 723.3L684.0 723.8L685.0 723.6L686.0 724.2L687.0 725.1L688.0 725.0L689.0 725.9L690.0 726.2L691.0 726.5L692.0 727.1L693.0 727.2L694.0 728.0L695.0 728.0L696.0 729.8L697.0 730.0L698.0 730.4L699.0 730.6L700.0 731.3L701.0 731.8L702.0 732.2L703.0 732.6L704.0 732.4L705.0 733.3L706.0 733.4L707.0 733.6L708.0 734.0L709.0 734.8L710.0 735.4L711.0 735.0L712.0 736.3L713.0 736.6L714.0 736.4L715.0 736.7L716.0 737.2L717.0 737.8L718.0 737.7L719.0 737.8L720.0 738.6L721.0 738.2L722.0 739.1L723.0 739.8L724.0 739.8L725.0 740.2L726.0 740.4L727.0 740.8L728.0 740.9L729.0 740.9L730.0 741.3L731.0 741.6L732.0 742.2L733.0 742.6L734.0 742.4L735.0 742.3L736.0 742.5L737.0 742.8L738.0 743.5L739.0 743.3L740.0 743.4L741.0 743.3L742.0 744.0L743.0 743.9L744.0 743.9L745.0 744.1L746.0 744.7L747.0 744.3L748.0 744.9L749.0 744.9L750.0 744.6L751.0 745.0L752.0 744.7L753.0 744.6L754.0 744.8L755.0 744.7L756.0 745.2L757.0 745.1L758.0 745.3L759.0 745.4L760.0 744.2L761.0 745.3L762.0 744.7L763.0 745.2L764.0 744.9L765.0 745.2L766.0 745.6L767.0 744.6L768.0 745.1L769.0 745.0L770.0 744.4L771.0 745.1L772.0 744.9L773.0 744.7L774.0 744.5L775.0 745.7L776.0 744.5L777.0 744.0L778.0 744.2L779.0 744.3L780.0 744.2L781.0 744.3L782.0 743.9L783.0 744.3L784.0 743.9L785.0 743.6L786.0 743.6L787.0 743.7L788.0 744.0L789.0 743.8L790.0 743.4L791.0 743.4L792.0 743.4L793.0 743.9L794.0 743.0L795.0 743.2L796.0 743.1L797.0 742.5L798.0 742.7L799.0 742.6L800.0 742.3L801.0 742.5L802.0 742.5L803.0 742.4L804.0 741.9L805.0 741.9L806.0 742.4L807.0 741.2L808.0 741.5L809.0 741.6L810.0 741.3L811.0 741.5L812.0 741.4L813.0 741.6L814.0 741.8L815.0 741.4L816.0 741.6L817.0 741.5L818.0 741.3L819.0 741.1L820.0 739.7L821.0 738.9L822.0 737.6L823.0 736.1L824.0 734.8L825.0 733.3L826.0 733.4L827.0 732.3L828.0 732.2L829.0 732.7L830.0 731.9L831.0 732.8L832.0 733.3L833.0 734.9L834.0 737.2L835.0 740.4L836.0 742.7L837.0 744.9L838.0 745.5L839.0 744.9L840.0 745.3L841.0 745.4L842.0 745.1L843.0 745.1L844.0 745.3L845.0 745.0L846.0 744.3L847.0 744.3L848.0 744.2L849.0 743.3L850.0 743.0L851.0 743.4L852.0 743.0L853.0 742.0L854.0 742.1L855.0 742.8L856.0 742.5L857.0 743.1L858.0 743.3L859.0 743.8L860.0 743.1L861.0 743.5L862.0 744.1L863.0 745.0L864.0 744.9L865.0 744.7L866.0 745.6L867.0 745.9L868.0 745.9L869.0 746.1L870.0 746.6L871.0 747.1L872.0 747.0L873.0 747.3L874.0 747.4L875.0 747.6L876.0 747.6L877.0 748.2L878.0 748.3L879.0 748.5L880.0 749.1L881.0 749.2L882.0 749.6L883.0 749.1L884.0 750.0L885.0 749.9L886.0 750.1L887.0 750.4L888.0 751.3L889.0 751.4L890.0 751.3L891.0 751.4L892.0 752.1L893.0 752.3L894.0 753.2L895.0 752.6L896.0 752.8L897.0 753.6L898.0 754.0L899.0 754.4L900.0 754.9L901.0 755.6L902.0 755.2L903.0 755.5L904.0 755.4L905.0 756.3L906.0 756.7L907.0 756.7L908.0 757.4L909.0 757.3L910.0 758.0L911.0 757.8L912.0 757.6L913.0 758.0L914.0 757.9L915.0 758.0L916.0 758.8L917.0 759.2L918.0 759.7L919.0 759.2L920.0 759.3L921.0 759.2L922.0 760.0L923.0 759.9L924.0 759.7L925.0 760.3L926.0 760.3L927.0 759.7L928.0 760.6L929.0 760.5L930.0 760.5L931.0 760.6L932.0 761.3L933.0 761.4L934.0 761.5L935.0 760.7L936.0 761.0L937.0 761.5L938.0 761.0L939.0 761.2L940.0 761.0L941.0 762.1L942.0 762.0L943.0 761.9L944.0 761.9L945.0 761.7L946.0 761.8L947.0 762.1L948.0 761.8L949.0 762.4L950.0 761.9L951.0 761.8L952.0 762.5L953.0 762.1L954.0 762.3L955.0 762.0L956.0 761.5L957.0 762.3L958.0 761.7L959.0 762.4L960.0 761.6L961.0 761.4L962.0 762.0L963.0 762.0L964.0 761.9L965.0 761.4L966.0 762.0L967.0 761.2L968.0 761.4L969.0 761.3L970.0 761.3L971.0 761.6L972.0 761.1L973.0 761.4L974.0 761.3L975.0 760.5L976.0 760.6L977.0 760.7L978.0 760.6L979.0 760.8L980.0 760.0L981.0 760.7L982.0 760.6L983.0 760.2L984.0 759.7L985.0 760.1L986.0 759.8L987.0 760.0L988.0 759.7L989.0 759.8L990.0 759.3L991.0 759.8L992.0 758.5L993.0 758.8L994.0 759.1L995.0 758.4L996.0 758.9L997.0 758.2L998.0 758.4L999.0 758.0L1000.0 758.0L1001.0 758.0L1002.0 757.8L1003.0 757.6L1004.0 758.2L1005.0 757.4L1006.0 756.9L1007.0 757.3L1008.0 757.1L1009.0 757.0L1010.0 756.9L1011.0 755.8L1012.0 756.2L1013.0 755.9L1014.0 755.3L1015.0 755.1L1016.0 753.8L1017.0 754.2L1018.0 754.6L1019.0 753.2L1020.0 753.3L1021.0 753.3L1022.0 753.1L1023.0 753.1L1024.0 751.8L1025.0 752.1L1026.0 752.1L1027.0 751.3L1028.0 751.4L1029.0 751.8L1030.0 751.5L1031.0 751.2L1032.0 750.1L1033.0 750.8L1034.0 750.8L1035.0 750.5L1036.0 750.5L1037.0 751.4L1038.0 750.3L1039.0 750.0L1040.0 750.3L1041.0 750.1L1042.0 750.0L1043.0 750.0L1044.0 750.2L1045.0 750.0L1046.0 749.5L1047.0 749.7L1048.0 749.9L1049.0 749.5L1050.0 749.9L1051.0 749.7L1052.0 749.1L1053.0 749.4L1054.0 749.8L1055.0 749.6L1056.0 749.0L1057.0 749.2L1058.0 748.7L1059.0 748.3L1060.0 748.8L1061.0 748.6L1062.0 748.6L1063.0 748.3L1064.0 748.3L1065.0 747.9L1066.0 748.1L1067.0 748.1L1068.0 747.7L1069.0 747.9L1070.0 746.9L1071.0 747.1L1072.0 747.7L1073.0 747.6L1074.0 747.0L1075.0 746.8L1076.0 746.3L1077.0 746.7L1078.0 746.7L1079.0 745.9L1080.0 746.3L1081.0 746.2L1082.0 746.0L1083.0 745.4L1084.0 745.7L1085.0 744.8L1086.0 745.4L1087.0 744.7L1088.0 743.9L1089.0 744.2L1090.0 743.5L1091.0 742.3L1092.0 742.4L1093.0 740.5L1094.0 739.9L1095.0 739.1L1096.0 736.9L1097.0 736.8L1098.0 735.3L1099.0 734.1L1100.0 732.7L1101.0 731.9L1102.0 730.3L1103.0 729.2L1104.0 728.3L1105.0 726.9L1106.0 726.7L1107.0 724.7L1108.0 723.8L1109.0 722.8L1110.0 721.8L1111.0 720.9L1112.0 719.9L1113.0 718.5L1114.0 717.4L1115.0 716.4L1116.0 715.6L1117.0 714.7L1118.0 713.5L1119.0 712.4L1120.0 713.1L1121.0 712.3L1122.0 711.7L1123.0 711.5L1124.0 711.0L1125.0 710.7L1126.0 710.8L1127.0 710.8L1128.0 710.7L1129.0 710.5L1130.0 710.9L1131.0 711.3L1132.0 711.0L1133.0 711.3L1134.0 710.8L1135.0 711.4L1136.0 711.6L1137.0 711.4L1138.0 711.4L1139.0 712.2L1140.0 712.2L1141.0 712.9L1142.0 713.2L1143.0 714.4L1144.0 715.8L1145.0 717.5L1146.0 720.0L1147.0 721.7L1148.0 723.3L1149.0 724.2L1150.0 725.4L1151.0 726.8L1152.0 727.7L1153.0 728.1L1154.0 728.5L1155.0 728.5L1156.0 728.5L1157.0 728.3L1158.0 727.8L1159.0 727.3L1160.0 726.9L1161.0 727.1L1162.0 726.0L1163.0 725.6L1164.0 725.3L1165.0 725.3L1166.0 725.5L1167.0 725.4L1168.0 725.5L1169.0 726.6L1170.0 726.4L1171.0 727.5L1172.0 727.9L1173.0 728.8L1174.0 729.5L1175.0 729.7L1176.0 730.1L1177.0 730.7L1178.0 731.6L1179.0 732.8L1180.0 733.1L1181.0 734.7L1182.0 735.7L1183.0 736.8L1184.0 737.4L1185.0 738.3L1186.0 738.8L1187.0 739.5L1188.0 739.7L1189.0 740.8L1190.0 741.7L1191.0 741.7L1192.0 742.2L1193.0 742.1L1194.0 743.2L1195.0 742.8L1196.0 743.4L1197.0 743.3L1198.0 743.1L1199.0 743.7L1200.0 743.4L1201.0 743.5L1202.0 743.5L1203.0 743.4L1204.0 743.2L1205.0 743.4L1206.0 743.0L1207.0 743.1L1208.0 742.7L1209.0 742.4L1210.0 742.5L1211.0 742.4L1212.0 742.3L1213.0 742.5L1214.0 741.4L1215.0 741.8L1216.0 740.8L1217.0 740.9L1218.0 740.8L1219.0 740.0L1220.0 739.8L1221.0 740.1L1222.0 739.8L1223.0 739.3L1224.0 738.4L1225.0 738.6L1226.0 737.0L1227.0 736.0L1228.0 736.0L1229.0 735.1L1230.0 734.4L1231.0 734.8L1232.0 734.7L1233.0 735.4L1234.0 736.0L1235.0 736.4L1236.0 737.8L1237.0 738.3L1238.0 738.4L1239.0 738.9L1240.0 739.9L1241.0 740.0L1242.0 740.5L1243.0 741.0L1244.0 741.0L1245.0 740.5L1246.0 741.1L1247.0 741.1L1248.0 740.9L1249.0 740.9L1250.0 740.3L1251.0 740.2L1252.0 740.2L1253.0 739.4L1254.0 739.8L1255.0 739.7L1256.0 739.3L1257.0 739.5L1258.0 739.1L1259.0 738.5L1260.0 739.0L1261.0 738.7L1262.0 738.7L1263.0 738.6L1264.0 739.0L1265.0 738.9L1266.0 739.1L1267.0 740.3L1268.0 741.2L1269.0 741.4L1270.0 741.7L1271.0 741.8L1272.0 741.8L1273.0 742.1L1274.0 742.3L1275.0 742.4L1276.0 742.1L1277.0 741.8L1278.0 741.6L1279.0 741.4L1280.0 740.6L1281.0 740.6L1282.0 740.1L1283.0 739.5L1284.0 738.9L1285.0 738.3L1286.0 737.8L1287.0 736.8L1288.0 736.7L1289.0 735.6L1290.0 734.6L1291.0 733.5L1292.0 732.3L1293.0 730.4L1294.0 729.0L1295.0 726.7L1296.0 724.3L1297.0 722.0L1298.0 720.4L1299.0 716.5L1300.0 713.9L1301.0 710.5L1302.0 705.9L1303.0 701.8L1304.0 696.4L1305.0 691.6L1306.0 688.1L1307.0 684.0L1308.0 680.3L1309.0 677.7L1310.0 674.6L1311.0 671.7L1312.0 669.3L1313.0 668.3L1314.0 665.6L1315.0 663.9L1316.0 662.0L1317.0 660.7L1318.0 659.1L1319.0 657.8L1320.0 656.4L1321.0 655.3L1322.0 654.3L1323.0 653.5L1324.0 652.9L1325.0 651.5L1326.0 650.6L1327.0 649.1L1328.0 647.8L1329.0 646.3L1330.0 645.6L1331.0 643.8L1332.0 643.2L1333.0 642.7L1334.0 641.2L1335.0 640.3L1336.0 638.7L1337.0 637.3L1338.0 636.4L1339.0 635.3L1340.0 634.7L1341.0 633.7L1342.0 631.6L1343.0 630.4L1344.0 629.1L1345.0 627.5L1346.0 625.7L1347.0 624.3L1348.0 621.9L1349.0 619.1L1350.0 615.5L1351.0 612.4L1352.0 608.4L1353.0 605.6L1354.0 601.4L1355.0 598.0L1356.0 594.2L1357.0 590.4L1358.0 586.5L1359.0 582.4L1360.0 579.4L1361.0 574.8L1362.0 570.6L1363.0 567.0L1364.0 562.3L1365.0 558.6L1366.0 554.9L1367.0 552.4L1368.0 549.9L1369.0 548.1L1370.0 546.5L1371.0 545.5L1372.0 544.8L1373.0 543.1L1374.0 543.0L1375.0 542.4L1376.0 542.0L1377.0 541.3L1378.0 541.9L1379.0 541.3L1380.0 541.5L1381.0 541.5L1382.0 541.3L1383.0 542.0L1384.0 542.1L1385.0 543.0L1386.0 544.0L1387.0 545.1L1388.0 546.5L1389.0 548.1L1390.0 550.8L1391.0 552.5L1392.0 554.3L1393.0 556.9L1394.0 559.3L1395.0 561.8L1396.0 564.0L1397.0 566.2L1398.0 569.1L1399.0 570.9L1400.0 572.9L1401.0 575.1L1402.0 577.3L1403.0 579.9L1404.0 581.8L1405.0 584.1L1406.0 584.9L1407.0 588.0L1408.0 590.0L1409.0 591.7L1410.0 592.0L1411.0 591.9L1412.0 592.6L1413.0 592.0L1414.0 591.3L1415.0 591.3L1416.0 591.5L1417.0 591.6L1418.0 591.6L1419.0 591.2L1420.0 592.5L1421.0 591.7L1422.0 592.5L1423.0 592.6L1424.0 594.2L1425.0 595.3L1426.0 597.6L1427.0 599.8L1428.0 601.5L1429.0 602.7L1430.0 603.3L1431.0 605.3L1432.0 606.4L1433.0 607.2L1434.0 608.4L1435.0 609.7L1436.0 611.2L1437.0 612.0L1438.0 613.0L1439.0 614.0L1440.0 614.8L1441.0 616.2L1442.0 617.5L1443.0 618.6L1444.0 619.8L1445.0 621.1L1446.0 622.1L1447.0 623.1L1448.0 624.0L1449.0 624.4L1450.0 624.6L1451.0 624.9L1452.0 624.4L1453.0 625.3L1454.0 624.5L1455.0 624.9L1456.0 624.2L1457.0 624.0L1458.0 622.9L1459.0 621.5L1460.0 620.9L1461.0 619.1L1462.0 617.3L1463.0 615.4L1464.0 613.6L1465.0 611.2L1466.0 608.6L1467.0 605.5L1468.0 603.1L1469.0 600.4L1470.0 597.9L1471.0 594.5L1472.0 591.4L1473.0 588.7L1474.0 585.3L1475.0 582.2L1476.0 579.2L1477.0 575.5L1478.0 573.0L1479.0 569.5L1480.0 565.8L1481.0 561.9L1482.0 557.8L1483.0 552.0L1484.0 545.0L1485.0 539.6L1486.0 535.9L1487.0 531.4L1488.0 527.5L1489.0 524.5L1490.0 521.2L1491.0 518.2L1492.0 515.0L1493.0 512.3L1494.0 509.1L1495.0 506.1L1496.0 503.2L1497.0 500.8L1498.0 498.2L1499.0 495.4L1500.0 492.4L1501.0 487.6L1502.0 487.3L1503.0 486.7L1504.0 486.1L1505.0 483.9L1506.0 485.8L1507.0 484.1L1508.0 482.3L1509.0 481.9L1510.0 480.3L1511.0 478.7L1512.0 479.0L1513.0 476.8L1514.0 474.5L1515.0 474.4L1516.0 474.2L1517.0 472.0L1518.0 474.2L1519.0 470.2L1520.0 473.2L1521.0 471.2L1522.0 467.8L1523.0 468.5L1524.0 469.1L1525.0 466.3L1526.0 463.9L1527.0 464.8L1528.0 466.5L1529.0 460.3L1530.0 462.3L1531.0 460.5L1532.0 459.3L1533.0 458.0L1534.0 457.4L1535.0 458.8L1536.0 457.6L1537.0 454.6L1538.0 458.1L1539.0 453.0L1540.0 455.6L1541.0 454.3L1542.0 455.4L1543.0 453.5L1544.0 454.1L1545.0 451.8L1546.0 452.9L1547.0 451.4L1548.0 453.9L1549.0 448.5L1550.0 451.2L1551.0 449.2L1552.0 447.9L1553.0 445.7L1554.0 446.8L1555.0 443.0L1556.0 443.6L1557.0 448.4L1558.0 445.7L1559.0 452.6L1560.0 450.7L1561.0 452.3L1562.0 451.9L1563.0 452.0L1564.0 450.1L1565.0 449.2L1566.0 448.9L1567.0 450.2L1568.0 449.4L1569.0 448.5L1570.0 445.4L1571.0 442.9L1572.0 438.6L1573.0 442.2L1574.0 441.8L1575.0 439.1L1576.0 441.8L1577.0 443.2L1578.0 441.2L1579.0 443.3L1580.0 441.6L1581.0 436.8L1582.0 439.0L1583.0 438.6L1584.0 440.1L1585.0 436.6L1586.0 436.9L1587.0 435.2L1588.0 436.6L1589.0 436.3L1590.0 437.7L1591.0 436.7L1592.0 434.7L1593.0 434.3L1594.0 433.2L1595.0 432.5L1596.0 435.4L1597.0 424.1L1598.0 429.6L1599.0 430.7L1600.0 433.5L1601.0 427.8L1602.0 432.9L1603.0 435.3L1604.0 431.6L1605.0 426.9L1606.0 431.8L1607.0 428.9L1608.0 435.0L1609.0 429.7L1610.0 438.8L1611.0 432.8L1612.0 429.2L1613.0 430.1L1614.0 427.6L1615.0 433.0L1616.0 437.2L1617.0 430.3L1618.0 434.8L1619.0 427.0L1620.0 432.0L1621.0 440.3L1622.0 424.3L1623.0 435.6L1623.7 435.3" stroke="#c0c0c0" stroke-width="5.3"/>
<path class="cv" d="M110.0 400.0L110.0 376.6L111.0 376.2L112.0 376.3L113.0 376.9L114.0 376.4L115.0 376.5L116.0 376.7L117.0 376.5L118.0 376.6L119.0 376.4L120.0 376.8L121.0 376.2L122.0 376.9L123.0 376.2L124.0 376.1L125.0 376.5L126.0 376.4L127.0 375.6L128.0 376.2L129.0 375.7L130.0 375.8L131.0 376.2L132.0 375.7L133.0 376.0L134.0 375.7L135.0 376.3L136.0 375.7L137.0 375.3L138.0 375.2L139.0 375.2L140.0 375.5L141.0 375.4L142.0 375.6L143.0 375.3L144.0 375.2L145.0 375.2L146.0 375.0L147.0 375.0L148.0 375.1L149.0 375.0L150.0 374.6L151.0 374.1L152.0 374.3L153.0 374.6L154.0 373.6L155.0 374.2L156.0 374.3L157.0 374.0L158.0 373.7L159.0 374.5L160.0 374.3L161.0 373.7L162.0 374.1L163.0 374.0L164.0 373.2L165.0 374.3L166.0 373.1L167.0 373.3L168.0 372.9L169.0 373.2L170.0 372.7L171.0 373.1L172.0 373.3L173.0 373.0L174.0 372.8L175.0 373.3L176.0 372.5L177.0 373.0L178.0 372.6L179.0 372.7L180.0 372.6L181.0 372.6L182.0 372.5L183.0 372.2L184.0 372.2L185.0 372.5L186.0 372.2L187.0 371.8L188.0 371.9L189.0 371.8L190.0 371.9L191.0 371.8L192.0 371.7L193.0 371.3L194.0 371.4L195.0 370.9L196.0 370.3L197.0 370.9L198.0 370.3L199.0 370.3L200.0 370.1L201.0 370.4L202.0 369.6L203.0 369.8L204.0 369.4L205.0 368.9L206.0 368.5L207.0 368.9L208.0 368.6L209.0 368.4L210.0 368.4L211.0 367.6L212.0 367.3L213.0 366.9L214.0 366.6L215.0 366.1L216.0 365.6L217.0 366.0L218.0 364.4L219.0 364.5L220.0 364.1L221.0 363.5L222.0 362.8L223.0 362.9L224.0 362.7L225.0 362.4L226.0 362.7L227.0 362.4L228.0 362.1L229.0 362.0L230.0 360.7L231.0 359.9L232.0 358.0L233.0 356.5L234.0 354.5L235.0 352.7L236.0 350.5L237.0 348.7L238.0 346.8L239.0 345.2L240.0 343.5L241.0 341.7L242.0 339.3L243.0 337.5L244.0 335.0L245.0 332.7L246.0 330.9L247.0 328.7L248.0 326.2L249.0 323.9L250.0 322.2L251.0 319.5L252.0 316.7L253.0 315.4L254.0 312.0L255.0 309.1L256.0 306.7L257.0 303.7L258.0 301.9L259.0 298.6L260.0 296.3L261.0 294.4L262.0 292.0L263.0 290.6L264.0 287.7L265.0 286.0L266.0 284.3L267.0 282.5L268.0 280.7L269.0 278.7L270.0 277.4L271.0 274.8L272.0 273.2L273.0 271.7L274.0 269.8L275.0 268.2L276.0 266.7L277.0 265.2L278.0 263.6L279.0 262.3L280.0 260.7L281.0 259.9L282.0 258.0L283.0 257.8L284.0 256.5L285.0 255.1L286.0 253.7L287.0 252.6L288.0 252.3L289.0 251.0L290.0 250.2L291.0 248.7L292.0 248.0L293.0 246.2L294.0 245.2L295.0 243.4L296.0 242.5L297.0 241.6L298.0 240.1L299.0 238.9L300.0 238.1L301.0 236.8L302.0 236.1L303.0 234.1L304.0 234.0L305.0 233.0L306.0 231.3L307.0 230.3L308.0 229.9L309.0 228.2L310.0 227.2L311.0 226.4L312.0 225.1L313.0 224.3L314.0 223.0L315.0 222.5L316.0 221.9L317.0 220.9L318.0 219.5L319.0 219.8L320.0 219.1L321.0 218.2L322.0 218.3L323.0 216.8L324.0 217.3L325.0 216.0L326.0 216.1L327.0 215.0L328.0 214.0L329.0 213.8L330.0 213.3L331.0 212.8L332.0 212.3L333.0 211.2L334.0 211.1L335.0 210.8L336.0 210.2L337.0 209.6L338.0 209.3L339.0 209.6L340.0 209.3L341.0 208.4L342.0 208.0L343.0 208.4L344.0 207.2L345.0 207.4L346.0 206.8L347.0 206.3L348.0 206.6L349.0 206.3L350.0 206.6L351.0 206.7L352.0 205.8L353.0 206.1L354.0 206.0L355.0 205.5L356.0 205.3L357.0 206.0L358.0 205.4L359.0 205.4L360.0 205.3L361.0 205.3L362.0 205.2L363.0 205.5L364.0 205.7L365.0 205.2L366.0 204.9L367.0 205.4L368.0 205.0L369.0 205.4L370.0 206.1L371.0 206.6L372.0 206.2L373.0 206.0L374.0 206.8L375.0 206.2L376.0 207.0L377.0 207.9L378.0 208.0L379.0 207.7L380.0 208.0L381.0 209.1L382.0 209.2L383.0 209.3L384.0 210.0L385.0 210.0L386.0 209.8L387.0 210.9L388.0 210.8L389.0 210.9L390.0 211.1L391.0 211.8L392.0 211.8L393.0 212.5L394.0 212.5L395.0 213.2L396.0 213.0L397.0 213.2L398.0 213.1L399.0 213.7L400.0 214.5L401.0 215.5L402.0 214.5L403.0 214.8L404.0 215.6L405.0 215.9L406.0 215.8L407.0 216.4L408.0 216.2L409.0 216.8L410.0 217.5L411.0 218.0L412.0 217.8L413.0 218.1L414.0 218.6L415.0 219.1L416.0 219.2L417.0 219.1L418.0 219.7L419.0 220.2L420.0 220.0L421.0 220.2L422.0 221.0L423.0 221.3L424.0 221.8L425.0 221.9L426.0 222.0L427.0 222.4L428.0 222.5L429.0 222.9L430.0 223.4L431.0 223.7L432.0 224.5L433.0 224.2L434.0 224.8L435.0 225.0L436.0 225.9L437.0 225.9L438.0 226.0L439.0 226.7L440.0 226.8L441.0 226.9L442.0 227.8L443.0 227.9L444.0 228.5L445.0 228.7L446.0 228.9L447.0 229.1L448.0 229.1L449.0 230.0L450.0 230.3L451.0 230.9L452.0 231.1L453.0 231.4L454.0 231.8L455.0 232.8L456.0 233.4L457.0 233.4L458.0 234.1L459.0 234.9L460.0 234.7L461.0 235.3L462.0 235.6L463.0 236.9L464.0 237.1L465.0 237.5L466.0 237.7L467.0 238.8L468.0 239.7L469.0 239.9L470.0 240.5L471.0 241.4L472.0 241.4L473.0 242.4L474.0 243.2L475.0 243.4L476.0 243.9L477.0 244.9L478.0 245.3L479.0 245.9L480.0 246.6L481.0 247.2L482.0 247.5L483.0 248.2L484.0 249.2L485.0 250.0L486.0 250.7L487.0 250.7L488.0 251.9L489.0 252.5L490.0 252.9L491.0 253.7L492.0 254.5L493.0 255.5L494.0 255.3L495.0 256.5L496.0 257.0L497.0 257.6L498.0 258.7L499.0 259.3L500.0 259.4L501.0 260.0L502.0 260.6L503.0 260.8L504.0 262.1L505.0 262.4L506.0 263.1L507.0 263.8L508.0 264.8L509.0 264.9L510.0 265.4L511.0 266.7L512.0 266.6L513.0 267.2L514.0 267.6L515.0 268.9L516.0 269.3L517.0 269.9L518.0 270.4L519.0 270.9L520.0 271.3L521.0 271.9L522.0 272.8L523.0 273.3L524.0 274.3L525.0 274.1L526.0 274.8L527.0 275.2L528.0 276.4L529.0 276.2L530.0 277.3L531.0 278.0L532.0 278.1L533.0 278.9L534.0 278.6L535.0 279.6L536.0 279.8L537.0 280.8L538.0 281.3L539.0 281.6L540.0 282.6L541.0 282.9L542.0 283.1L543.0 283.6L544.0 283.8L545.0 284.7L546.0 285.9L547.0 285.5L548.0 286.3L549.0 286.5L550.0 287.2L551.0 287.4L552.0 287.4L553.0 287.1L554.0 287.7L555.0 288.6L556.0 288.7L557.0 289.6L558.0 290.1L559.0 290.6L560.0 292.2L561.0 293.1L562.0 293.6L563.0 294.4L564.0 295.2L565.0 295.6L566.0 296.5L567.0 297.0L568.0 297.0L569.0 298.2L570.0 298.7L571.0 299.3L572.0 300.2L573.0 300.5L574.0 301.4L575.0 302.1L576.0 302.4L577.0 302.4L578.0 303.2L579.0 304.2L580.0 304.3L581.0 304.7L582.0 305.4L583.0 306.0L584.0 306.5L585.0 307.1L586.0 307.1L587.0 307.8L588.0 308.3L589.0 308.9L590.0 308.8L591.0 309.8L592.0 310.0L593.0 311.3L594.0 311.9L595.0 312.4L596.0 312.6L597.0 312.8L598.0 313.7L599.0 313.8L600.0 314.6L601.0 314.6L602.0 315.2L603.0 316.0L604.0 316.9L605.0 316.9L606.0 318.1L607.0 318.7L608.0 318.0L609.0 318.9L610.0 319.0L611.0 319.8L612.0 320.1L613.0 320.7L614.0 321.4L615.0 321.8L616.0 322.1L617.0 322.4L618.0 322.9L619.0 323.4L620.0 323.9L621.0 324.2L622.0 324.8L623.0 324.7L624.0 325.8L625.0 326.6L626.0 326.6L627.0 326.6L628.0 327.9L629.0 327.9L630.0 327.6L631.0 328.8L632.0 329.6L633.0 330.0L634.0 330.7L635.0 330.9L636.0 331.2L637.0 331.0L638.0 331.7L639.0 332.5L640.0 333.1L641.0 333.0L642.0 333.5L643.0 334.2L644.0 333.8L645.0 334.2L646.0 335.1L647.0 335.6L648.0 335.7L649.0 335.5L650.0 336.6L651.0 336.5L652.0 337.5L653.0 337.6L654.0 338.1L655.0 338.6L656.0 338.6L657.0 339.3L658.0 339.8L659.0 339.9L660.0 340.5L661.0 340.3L662.0 341.1L663.0 341.2L664.0 341.2L665.0 341.8L666.0 342.0L667.0 342.3L668.0 342.8L669.0 343.4L670.0 343.3L671.0 343.8L672.0 343.6L673.0 344.4L674.0 345.0L675.0 345.2L676.0 345.4L677.0 345.4L678.0 345.5L679.0 346.0L680.0 346.0L681.0 346.3L682.0 347.2L683.0 346.9L684.0 347.9L685.0 347.2L686.0 348.0L687.0 347.8L688.0 348.5L689.0 348.3L690.0 348.9L691.0 349.1L692.0 349.2L693.0 349.7L694.0 350.3L695.0 349.9L696.0 350.5L697.0 350.5L698.0 350.7L699.0 351.5L700.0 350.5L701.0 351.1L702.0 351.0L703.0 351.6L704.0 351.8L705.0 353.2L706.0 352.4L707.0 353.0L708.0 353.0L709.0 352.7L710.0 353.1L711.0 353.6L712.0 353.3L713.0 353.5L714.0 353.7L715.0 353.3L716.0 353.6L717.0 354.1L718.0 354.3L719.0 354.0L720.0 354.3L721.0 354.6L722.0 354.7L723.0 355.1L724.0 355.1L725.0 355.3L726.0 355.0L727.0 355.3L728.0 355.9L729.0 355.5L730.0 356.2L731.0 356.0L732.0 356.1L733.0 356.6L734.0 356.4L735.0 356.4L736.0 356.6L737.0 356.9L738.0 357.8L739.0 356.5L740.0 357.3L741.0 357.3L742.0 357.8L743.0 357.5L744.0 357.0L745.0 358.2L746.0 357.6L747.0 358.0L748.0 357.8L749.0 357.9L750.0 358.2L751.0 358.7L752.0 358.8L753.0 358.4L754.0 358.8L755.0 358.6L756.0 358.7L757.0 358.8L758.0 358.9L759.0 358.6L760.0 358.7L761.0 358.8L762.0 358.8L763.0 358.5L764.0 359.3L765.0 358.7L766.0 359.0L767.0 358.9L768.0 359.2L769.0 358.2L770.0 359.5L771.0 358.8L772.0 358.5L773.0 358.9L774.0 359.5L775.0 359.0L776.0 358.5L777.0 358.7L778.0 359.2L779.0 358.4L780.0 358.7L781.0 358.6L782.0 359.3L783.0 358.6L784.0 359.0L785.0 358.4L786.0 358.3L787.0 358.8L788.0 358.7L789.0 357.9L790.0 358.6L791.0 358.5L792.0 358.1L793.0 358.4L794.0 358.3L795.0 358.1L796.0 358.1L797.0 358.0L798.0 358.1L799.0 357.8L800.0 358.2L801.0 357.8L802.0 358.3L803.0 358.2L804.0 357.9L805.0 358.5L806.0 358.8L807.0 358.7L808.0 357.9L809.0 358.8L810.0 358.6L811.0 358.7L812.0 358.8L813.0 359.2L814.0 359.9L815.0 359.8L816.0 359.6L817.0 359.6L818.0 359.4L819.0 359.3L820.0 359.2L821.0 357.9L822.0 358.0L823.0 357.9L824.0 358.1L825.0 358.8L826.0 359.4L827.0 359.3L828.0 359.7L829.0 360.6L830.0 360.2L831.0 359.9L832.0 359.1L833.0 358.6L834.0 358.3L835.0 357.6L836.0 357.1L837.0 357.3L838.0 357.5L839.0 356.9L840.0 357.6L841.0 357.5L842.0 357.0L843.0 357.3L844.0 357.3L845.0 357.6L846.0 357.6L847.0 357.0L848.0 357.0L849.0 357.7L850.0 357.4L851.0 357.4L852.0 357.3L853.0 357.6L854.0 356.8L855.0 357.4L856.0 356.7L857.0 357.1L858.0 357.2L859.0 356.4L860.0 356.8L861.0 356.5L862.0 356.5L863.0 356.5L864.0 356.1L865.0 356.1L866.0 356.5L867.0 356.5L868.0 356.0L869.0 355.7L870.0 356.7L871.0 356.3L872.0 356.0L873.0 355.5L874.0 355.6L875.0 355.8L876.0 355.4L877.0 356.1L878.0 355.6L879.0 355.6L880.0 355.1L881.0 355.1L882.0 355.1L883.0 355.4L884.0 355.1L885.0 355.1L886.0 355.2L887.0 355.2L888.0 355.5L889.0 355.0L890.0 354.7L891.0 355.0L892.0 355.4L893.0 354.7L894.0 354.9L895.0 354.7L896.0 354.9L897.0 354.8L898.0 354.4L899.0 354.5L900.0 354.8L901.0 354.8L902.0 354.7L903.0 354.6L904.0 354.2L905.0 354.1L906.0 354.4L907.0 353.7L908.0 354.0L909.0 353.4L910.0 353.8L911.0 353.6L912.0 353.4L913.0 353.8L914.0 353.4L915.0 353.4L916.0 353.4L917.0 353.2L918.0 353.7L919.0 353.1L920.0 353.2L921.0 352.7L922.0 352.9L923.0 352.9L924.0 352.8L925.0 352.7L926.0 352.8L927.0 353.2L928.0 352.6L929.0 352.5L930.0 352.4L931.0 353.2L932.0 352.8L933.0 352.5L934.0 352.4L935.0 352.0L936.0 352.1L937.0 352.1L938.0 352.0L939.0 351.6L940.0 351.6L941.0 351.9L942.0 351.8L943.0 351.0L944.0 351.6L945.0 351.9L946.0 351.3L947.0 351.5L948.0 350.9L949.0 351.5L950.0 350.9L951.0 350.8L952.0 351.0L953.0 351.7L954.0 350.8L955.0 350.5L956.0 351.0L957.0 350.9L958.0 351.3L959.0 350.4L960.0 350.2L961.0 350.9L962.0 351.3L963.0 351.3L964.0 351.5L965.0 350.7L966.0 350.9L967.0 351.0L968.0 351.2L969.0 351.0L970.0 350.6L971.0 350.4L972.0 350.8L973.0 350.8L974.0 351.2L975.0 350.3L976.0 350.8L977.0 350.0L978.0 350.2L979.0 350.2L980.0 350.3L981.0 350.3L982.0 350.4L983.0 350.7L984.0 350.6L985.0 351.0L986.0 350.9L987.0 351.0L988.0 351.5L989.0 351.2L990.0 351.2L991.0 351.3L992.0 351.4L993.0 351.6L994.0 351.3L995.0 351.9L996.0 352.1L997.0 352.1L998.0 351.7L999.0 351.4L1000.0 351.9L1001.0 352.1L1002.0 352.4L1003.0 352.2L1004.0 352.2L1005.0 352.8L1006.0 352.2L1007.0 352.7L1008.0 352.7L1009.0 352.0L1010.0 352.4L1011.0 352.1L1012.0 351.9L1013.0 351.6L1014.0 351.6L1015.0 352.1L1016.0 351.7L1017.0 351.8L1018.0 351.2L1019.0 351.2L1020.0 350.9L1021.0 350.2L1022.0 349.9L1023.0 350.3L1024.0 349.9L1025.0 349.4L1026.0 349.5L1027.0 349.6L1028.0 349.9L1029.0 349.2L1030.0 349.7L1031.0 350.2L1032.0 349.8L1033.0 350.3L1034.0 349.3L1035.0 350.6L1036.0 350.3L1037.0 349.8L1038.0 350.6L1039.0 350.7L1040.0 350.8L1041.0 350.8L1042.0 350.4L1043.0 350.2L1044.0 350.2L1045.0 350.3L1046.0 350.4L1047.0 350.2L1048.0 350.4L1049.0 350.6L1050.0 350.6L1051.0 351.3L1052.0 351.5L1053.0 350.8L1054.0 351.3L1055.0 351.4L1056.0 351.7L1057.0 352.4L1058.0 352.0L1059.0 352.0L1060.0 352.2L1061.0 352.5L1062.0 352.1L1063.0 352.0L1064.0 352.3L1065.0 352.1L1066.0 351.9L1067.0 351.9L1068.0 351.2L1069.0 351.4L1070.0 350.9L1071.0 351.2L1072.0 351.0L1073.0 350.2L1074.0 350.6L1075.0 349.6L1076.0 350.1L1077.0 349.5L1078.0 348.9L1079.0 348.5L1080.0 348.3L1081.0 347.9L1082.0 347.1L1083.0 346.9L1084.0 345.7L1085.0 345.6L1086.0 345.2L1087.0 344.7L1088.0 345.7L1089.0 345.8L1090.0 345.9L1091.0 346.7L1092.0 346.6L1093.0 346.2L1094.0 344.8L1095.0 344.2L1096.0 342.8L1097.0 341.1L1098.0 339.1L1099.0 336.8L1100.0 334.8L1101.0 333.9L1102.0 333.4L1103.0 333.0L1104.0 332.8L1105.0 332.4L1106.0 332.7L1107.0 331.8L1108.0 329.8L1109.0 328.5L1110.0 327.0L1111.0 325.1L1112.0 323.6L1113.0 321.9L1114.0 319.5L1115.0 318.1L1116.0 316.6L1117.0 315.0L1118.0 313.4L1119.0 310.7L1120.0 309.5L1121.0 308.0L1122.0 306.4L1123.0 304.7L1124.0 302.2L1125.0 300.4L1126.0 298.3L1127.0 296.8L1128.0 294.1L1129.0 292.8L1130.0 290.8L1131.0 288.7L1132.0 286.0L1133.0 284.6L1134.0 283.4L1135.0 281.7L1136.0 281.7L1137.0 281.7L1138.0 282.0L1139.0 281.8L1140.0 282.0L1141.0 282.2L1142.0 283.1L1143.0 284.4L1144.0 286.5L1145.0 288.5L1146.0 291.5L1147.0 293.4L1148.0 297.2L1149.0 299.9L1150.0 303.3L1151.0 306.0L1152.0 309.0L1153.0 311.8L1154.0 313.6L1155.0 316.0L1156.0 317.9L1157.0 319.8L1158.0 320.7L1159.0 322.5L1160.0 323.7L1161.0 324.6L1162.0 325.9L1163.0 326.6L1164.0 328.5L1165.0 329.1L1166.0 330.0L1167.0 329.3L1168.0 328.6L1169.0 328.4L1170.0 327.2L1171.0 327.1L1172.0 326.1L1173.0 325.5L1174.0 325.0L1175.0 324.3L1176.0 324.1L1177.0 323.6L1178.0 324.1L1179.0 326.3L1180.0 326.6L1181.0 327.3L1182.0 327.1L1183.0 327.3L1184.0 328.1L1185.0 327.9L1186.0 328.4L1187.0 329.2L1188.0 330.1L1189.0 331.5L1190.0 331.6L1191.0 332.4L1192.0 333.7L1193.0 333.8L1194.0 335.0L1195.0 336.2L1196.0 336.5L1197.0 336.9L1198.0 337.1L1199.0 337.2L1200.0 337.2L1201.0 337.2L1202.0 337.1L1203.0 336.6L1204.0 335.8L1205.0 335.3L1206.0 335.3L1207.0 334.1L1208.0 334.0L1209.0 333.6L1210.0 333.0L1211.0 332.6L1212.0 332.5L1213.0 331.5L1214.0 331.3L1215.0 330.9L1216.0 330.7L1217.0 329.8L1218.0 330.1L1219.0 329.3L1220.0 328.9L1221.0 328.7L1222.0 328.6L1223.0 328.6L1224.0 329.4L1225.0 329.3L1226.0 329.4L1227.0 330.0L1228.0 329.7L1229.0 330.3L1230.0 330.4L1231.0 330.3L1232.0 331.1L1233.0 330.8L1234.0 331.7L1235.0 331.6L1236.0 332.4L1237.0 333.0L1238.0 333.1L1239.0 333.1L1240.0 333.7L1241.0 333.9L1242.0 334.0L1243.0 334.4L1244.0 335.1L1245.0 335.5L1246.0 335.2L1247.0 336.0L1248.0 336.4L1249.0 336.4L1250.0 336.2L1251.0 336.8L1252.0 336.2L1253.0 336.7L1254.0 336.9L1255.0 335.8L1256.0 336.3L1257.0 336.2L1258.0 336.1L1259.0 335.7L1260.0 335.7L1261.0 335.2L1262.0 335.5L1263.0 335.4L1264.0 334.9L1265.0 334.6L1266.0 334.6L1267.0 334.5L1268.0 334.3L1269.0 334.0L1270.0 333.8L1271.0 333.2L1272.0 332.5L1273.0 333.2L1274.0 333.2L1275.0 332.1L1276.0 332.0L1277.0 331.9L1278.0 331.7L1279.0 331.1L1280.0 330.8L1281.0 329.8L1282.0 329.3L1283.0 328.7L1284.0 327.8L1285.0 327.4L1286.0 326.3L1287.0 325.3L1288.0 323.7L1289.0 322.9L1290.0 320.8L1291.0 319.6L1292.0 316.9L1293.0 315.4L1294.0 313.9L1295.0 311.2L1296.0 308.8L1297.0 305.3L1298.0 303.0L1299.0 298.9L1300.0 293.8L1301.0 287.5L1302.0 280.2L1303.0 273.5L1304.0 266.4L1305.0 259.2L1306.0 253.3L1307.0 248.5L1308.0 244.1L1309.0 240.1L1310.0 237.0L1311.0 233.5L1312.0 230.5L1313.0 227.0L1314.0 224.5L1315.0 222.5L1316.0 220.0L1317.0 218.2L1318.0 216.9L1319.0 214.3L1320.0 212.7L1321.0 210.7L1322.0 208.9L1323.0 207.3L1324.0 205.1L1325.0 203.2L1326.0 202.6L1327.0 200.6L1328.0 199.5L1329.0 197.9L1330.0 196.6L1331.0 195.5L1332.0 194.3L1333.0 192.6L1334.0 192.2L1335.0 190.4L1336.0 189.6L1337.0 189.2L1338.0 187.4L1339.0 186.7L1340.0 185.2L1341.0 184.5L1342.0 183.4L1343.0 182.6L1344.0 181.1L1345.0 179.9L1346.0 178.8L1347.0 176.8L1348.0 175.4L1349.0 174.2L1350.0 172.3L1351.0 170.6L1352.0 168.9L1353.0 167.7L1354.0 165.9L1355.0 164.4L1356.0 162.6L1357.0 161.3L1358.0 158.4L1359.0 155.3L1360.0 152.9L1361.0 149.3L1362.0 145.3L1363.0 140.4L1364.0 136.3L1365.0 130.9L1366.0 127.1L1367.0 124.3L1368.0 123.4L1369.0 122.1L1370.0 121.7L1371.0 121.1L1372.0 121.0L1373.0 121.9L1374.0 122.3L1375.0 123.9L1376.0 124.9L1377.0 126.8L1378.0 128.3L1379.0 129.6L1380.0 130.3L1381.0 131.0L1382.0 132.3L1383.0 133.9L1384.0 136.3L1385.0 138.7L1386.0 140.5L1387.0 143.2L1388.0 145.5L1389.0 147.0L1390.0 149.3L1391.0 151.9L1392.0 154.7L1393.0 157.9L1394.0 162.1L1395.0 165.9L1396.0 169.5L1397.0 173.3L1398.0 177.0L1399.0 180.4L1400.0 183.9L1401.0 187.3L1402.0 190.9L1403.0 195.2L1404.0 200.6L1405.0 205.9L1406.0 209.7L1407.0 212.8L1408.0 216.7L1409.0 218.8L1410.0 222.4L1411.0 224.1L1412.0 225.7L1413.0 226.5L1414.0 227.0L1415.0 227.4L1416.0 227.1L1417.0 226.0L1418.0 224.6L1419.0 222.6L1420.0 220.2L1421.0 217.4L1422.0 214.8L1423.0 213.1L1424.0 210.8L1425.0 209.5L1426.0 208.8L1427.0 208.2L1428.0 207.3L1429.0 207.2L1430.0 207.1L1431.0 206.3L1432.0 206.0L1433.0 205.8L1434.0 205.2L1435.0 204.7L1436.0 204.4L1437.0 204.3L1438.0 203.8L1439.0 204.0L1440.0 203.5L1441.0 204.0L1442.0 203.9L1443.0 203.5L1444.0 204.8L1445.0 204.9L1446.0 206.2L1447.0 206.8L1448.0 207.5L1449.0 208.4L1450.0 208.5L1451.0 208.8L1452.0 208.7L1453.0 208.2L1454.0 207.9L1455.0 207.0L1456.0 206.8L1457.0 205.7L1458.0 205.6L1459.0 204.8L1460.0 204.1L1461.0 203.0L1462.0 203.2L1463.0 201.4L1464.0 200.7L1465.0 199.6L1466.0 199.0L1467.0 196.8L1468.0 194.9L1469.0 191.3L1470.0 188.2L1471.0 184.8L1472.0 182.1L1473.0 178.8L1474.0 175.6L1475.0 172.8L1476.0 169.1L1477.0 165.9L1478.0 163.0L1479.0 158.9L1480.0 156.2L1481.0 152.5L1482.0 149.0L1483.0 146.0L1484.0 142.9L1485.0 139.3L1486.0 136.0L1487.0 132.0L1488.0 127.7L1489.0 124.1L1490.0 121.2L1491.0 118.8L1492.0 117.0L1493.0 115.6L1494.0 113.9L1495.0 112.2L1496.0 111.0L1497.0 108.9L1498.0 107.5L1499.0 106.3L1500.0 106.4L1501.0 103.3L1502.0 103.5L1503.0 102.6L1504.0 101.4L1505.0 101.9L1506.0 100.1L1507.0 98.8L1508.0 96.3L1509.0 96.5L1510.0 94.6L1511.0 93.9L1512.0 93.0L1513.0 91.3L1514.0 91.5L1515.0 92.0L1516.0 90.7L1517.0 89.2L1518.0 86.2L1519.0 89.1L1520.0 88.4L1521.0 86.0L1522.0 84.5L1523.0 84.6L1524.0 81.5L1525.0 82.2L1526.0 78.6L1527.0 77.7L1528.0 78.1L1529.0 75.6L1530.0 77.0L1531.0 77.4L1532.0 74.5L1533.0 77.1L1534.0 74.6L1535.0 75.5L1536.0 74.2L1537.0 72.4L1538.0 71.4L1539.0 68.8L1540.0 69.3L1541.0 68.3L1542.0 71.0L1543.0 69.3L1544.0 65.0L1545.0 67.7L1546.0 66.3L1547.0 64.8L1548.0 65.6L1549.0 65.6L1550.0 62.9L1551.0 62.8L1552.0 62.8L1553.0 60.2L1554.0 61.2L1555.0 59.9L1556.0 58.1L1557.0 56.9L1558.0 58.0L1559.0 58.1L1560.0 56.4L1561.0 53.6L1562.0 55.7L1563.0 54.0L1564.0 54.1L1565.0 54.5L1566.0 50.4L1567.0 51.6L1568.0 50.8L1569.0 50.4L1570.0 55.6L1571.0 53.5L1572.0 48.2L1573.0 51.7L1574.0 49.4L1575.0 52.0L1576.0 49.5L1577.0 48.5L1578.0 48.7L1579.0 48.9L1580.0 48.0L1581.0 47.3L1582.0 47.2L1583.0 48.1L1584.0 44.3L1585.0 45.7L1586.0 44.4L1587.0 42.4L1588.0 43.8L1589.0 38.6L1590.0 39.6L1591.0 37.8L1592.0 40.1L1593.0 37.2L1594.0 37.6L1595.0 37.8L1596.0 32.7L1597.0 36.9L1598.0 33.8L1599.0 34.6L1600.0 34.6L1601.0 36.4L1602.0 35.7L1603.0 37.6L1604.0 32.8L1605.0 30.2L1606.0 29.1L1607.0 31.1L1608.0 32.7L1609.0 28.1L1610.0 24.1L1611.0 25.0L1612.0 23.6L1613.0 22.1L1614.0 20.0L1615.0 15.8L1616.0 23.3L1617.0 30.0L1618.0 29.8L1619.0 25.0L1620.0 34.1L1621.0 30.2L1622.0 43.5L1623.0 38.3L1624.0 26.1" stroke="#000000" stroke-width="5.3"/>
</g>
<line x1="1134.2" y1="219.4" x2="1136.3" y2="2034.0" stroke="#000" stroke-width="2.9" stroke-dasharray="13.2 7.2 4.5 7.2 4.5 6.85" stroke-dashoffset="0"/>
<line x1="1373.6" y1="85.1" x2="1374.3" y2="2034.0" stroke="#000" stroke-width="2.9" stroke-dasharray="13.2 7.2 4.5 7.2 4.5 6.85" stroke-dashoffset="1"/>
<line x1="1411.7" y1="494.6" x2="1411.9" y2="2038.9" stroke="#ff1a1a" stroke-width="2.9" stroke-dasharray="13.2 7.2 4.5 7.2 4.5 6.85" stroke-dashoffset="0"/>
<line x1="110.00" y1="2036.40" x2="110.00" y2="2060.00" stroke="#000" stroke-width="5.0"/>
<line x1="153.41" y1="2036.40" x2="153.41" y2="2048.40" stroke="#000" stroke-width="4.6"/>
<line x1="196.83" y1="2036.40" x2="196.83" y2="2048.40" stroke="#000" stroke-width="4.6"/>
<line x1="240.24" y1="2036.40" x2="240.24" y2="2048.40" stroke="#000" stroke-width="4.6"/>
<line x1="283.65" y1="2036.40" x2="283.65" y2="2048.40" stroke="#000" stroke-width="4.6"/>
<line x1="327.06" y1="2036.40" x2="327.06" y2="2060.00" stroke="#000" stroke-width="5.0"/>
<line x1="370.48" y1="2036.40" x2="370.48" y2="2048.40" stroke="#000" stroke-width="4.6"/>
<line x1="413.89" y1="2036.40" x2="413.89" y2="2048.40" stroke="#000" stroke-width="4.6"/>
<line x1="457.30" y1="2036.40" x2="457.30" y2="2048.40" stroke="#000" stroke-width="4.6"/>
<line x1="500.72" y1="2036.40" x2="500.72" y2="2048.40" stroke="#000" stroke-width="4.6"/>
<line x1="544.13" y1="2036.40" x2="544.13" y2="2060.00" stroke="#000" stroke-width="5.0"/>
<line x1="587.54" y1="2036.40" x2="587.54" y2="2048.40" stroke="#000" stroke-width="4.6"/>
<line x1="630.96" y1="2036.40" x2="630.96" y2="2048.40" stroke="#000" stroke-width="4.6"/>
<line x1="674.37" y1="2036.40" x2="674.37" y2="2048.40" stroke="#000" stroke-width="4.6"/>
<line x1="717.78" y1="2036.40" x2="717.78" y2="2048.40" stroke="#000" stroke-width="4.6"/>
<line x1="761.20" y1="2036.40" x2="761.20" y2="2060.00" stroke="#000" stroke-width="5.0"/>
<line x1="804.61" y1="2036.40" x2="804.61" y2="2048.40" stroke="#000" stroke-width="4.6"/>
<line x1="848.02" y1="2036.40" x2="848.02" y2="2048.40" stroke="#000" stroke-width="4.6"/>
<line x1="891.43" y1="2036.40" x2="891.43" y2="2048.40" stroke="#000" stroke-width="4.6"/>
<line x1="934.85" y1="2036.40" x2="934.85" y2="2048.40" stroke="#000" stroke-width="4.6"/>
<line x1="978.26" y1="2036.40" x2="978.26" y2="2060.00" stroke="#000" stroke-width="5.0"/>
<line x1="1021.67" y1="2036.40" x2="1021.67" y2="2048.40" stroke="#000" stroke-width="4.6"/>
<line x1="1065.09" y1="2036.40" x2="1065.09" y2="2048.40" stroke="#000" stroke-width="4.6"/>
<line x1="1108.50" y1="2036.40" x2="1108.50" y2="2048.40" stroke="#000" stroke-width="4.6"/>
<line x1="1151.91" y1="2036.40" x2="1151.91" y2="2048.40" stroke="#000" stroke-width="4.6"/>
<line x1="1195.33" y1="2036.40" x2="1195.33" y2="2060.00" stroke="#000" stroke-width="5.0"/>
<line x1="1238.74" y1="2036.40" x2="1238.74" y2="2048.40" stroke="#000" stroke-width="4.6"/>
<line x1="1282.15" y1="2036.40" x2="1282.15" y2="2048.40" stroke="#000" stroke-width="4.6"/>
<line x1="1325.56" y1="2036.40" x2="1325.56" y2="2048.40" stroke="#000" stroke-width="4.6"/>
<line x1="1368.98" y1="2036.40" x2="1368.98" y2="2048.40" stroke="#000" stroke-width="4.6"/>
<line x1="1412.39" y1="2036.40" x2="1412.39" y2="2060.00" stroke="#000" stroke-width="5.0"/>
<line x1="1455.80" y1="2036.40" x2="1455.80" y2="2048.40" stroke="#000" stroke-width="4.6"/>
<line x1="1499.22" y1="2036.40" x2="1499.22" y2="2048.40" stroke="#000" stroke-width="4.6"/>
<line x1="1542.63" y1="2036.40" x2="1542.63" y2="2048.40" stroke="#000" stroke-width="4.6"/>
<line x1="1586.04" y1="2036.40" x2="1586.04" y2="2048.40" stroke="#000" stroke-width="4.6"/>
<text transform="translate(109.30 2115.0) scale(1 1.025)" text-anchor="middle" font-size="49.7">4000</text>
<text transform="translate(326.37 2115.0) scale(1 1.025)" text-anchor="middle" font-size="49.7">3500</text>
<text transform="translate(543.43 2115.0) scale(1 1.025)" text-anchor="middle" font-size="49.7">3000</text>
<text transform="translate(760.50 2115.0) scale(1 1.025)" text-anchor="middle" font-size="49.7">2500</text>
<text transform="translate(977.56 2115.0) scale(1 1.025)" text-anchor="middle" font-size="49.7">2000</text>
<text transform="translate(1194.62 2115.0) scale(1 1.025)" text-anchor="middle" font-size="49.7">1500</text>
<text transform="translate(1411.69 2115.0) scale(1 1.025)" text-anchor="middle" font-size="49.7">1000</text>
<text transform="translate(301.0 174.2) scale(1 1.045)" font-size="51.2" text-anchor="start"><tspan class="b">O</tspan><tspan class="r" font-size="46.1" dx="1.42" dy="-0.30">–</tspan><tspan class="b" dx="1.42" dy="0.30">H</tspan></text>
<text transform="translate(369.2 578.4) scale(1 1.045)" font-size="51.2" text-anchor="start"><tspan class="b">O</tspan><tspan class="r" font-size="46.1" dx="1.42" dy="-0.30">–</tspan><tspan class="b" dx="1.42" dy="0.30">H</tspan></text>
<text transform="translate(365.5 1029.1) scale(1 1.045)" font-size="51.2" text-anchor="start"><tspan class="b">O</tspan><tspan class="r" font-size="46.1" dx="1.42" dy="-0.30">–</tspan><tspan class="b" dx="1.42" dy="0.30">H</tspan></text>
<text transform="translate(389.9 1412.0) scale(1 1.045)" font-size="51.2" text-anchor="start"><tspan class="b">O</tspan><tspan class="r" font-size="46.1" dx="1.42" dy="-0.30">–</tspan><tspan class="b" dx="1.42" dy="0.30">H</tspan></text>
<text transform="translate(403.3 1692.3) scale(1 1.045)" font-size="51.2" text-anchor="start"><tspan class="b">O</tspan><tspan class="r" font-size="46.1" dx="1.42" dy="-0.30">–</tspan><tspan class="b" dx="1.42" dy="0.30">H</tspan></text>
<text transform="translate(1056.7 191.6) scale(1 1.045)" font-size="51.2" text-anchor="start"><tspan class="b">H</tspan><tspan class="r" font-size="46.1" dx="1.42" dy="-0.30">–</tspan><tspan class="b" dx="1.42" dy="0.30">O</tspan><tspan class="r" font-size="46.1" dx="1.42" dy="-0.30">–</tspan><tspan class="b" dx="1.42" dy="0.30">H</tspan></text>
<text transform="translate(1280.6 78.9) scale(1 1.040)" font-size="50.4" text-anchor="start"><tspan class="b">Si</tspan><tspan class="r" font-size="45.4" dx="1.40" dy="-0.28">–</tspan><tspan class="b" dx="1.40" dy="0.28">O</tspan><tspan class="r" font-size="45.4" dx="1.40" dy="-0.28">–</tspan><tspan class="b" dx="1.40" dy="0.28">Si</tspan></text>
<text transform="translate(1600.9 1726.2) rotate(-90) scale(1 1.066)" font-size="50.2" text-anchor="start"><tspan class="b">P</tspan><tspan class="r" font-size="45.2" dx="1.40" dy="-0.27">–</tspan><tspan class="b" dx="1.40" dy="0.27">O</tspan><tspan class="r" font-size="45.2" dx="1.40" dy="-0.27">–</tspan><tspan class="b" dx="1.40" dy="0.27">P</tspan></text>
<text transform="translate(123.0 351.0)" font-size="56.4" text-anchor="start"><tspan class="b">(e)</tspan></text>
<text transform="translate(129.1 769.5)" font-size="56.4" text-anchor="start"><tspan class="b">(d)</tspan></text>
<text transform="translate(126.1 1144.3)" font-size="56.4" text-anchor="start"><tspan class="b">(c)</tspan></text>
<text transform="translate(129.1 1533.4)" font-size="56.4" text-anchor="start"><tspan class="b">(b)</tspan></text>
<text transform="translate(126.1 1919.7)" font-size="56.4" text-anchor="start"><tspan class="b">(a)</tspan></text>
<text font-size="68" class="b" transform="translate(548.5 2198.3)">Wavenumber (cm<tspan class="m" font-size="38.3" dx="-1.9" dy="-27.9">−</tspan><tspan font-size="45" dx="-4.5" dy="-0.8">1</tspan><tspan dx="2.5" dy="28.7">)</tspan></text>
<text font-size="67.8" class="b" transform="translate(63.4 1291.0) rotate(-90)">Absorbance (a.u.)</text>
</svg>
</body>
</html>
